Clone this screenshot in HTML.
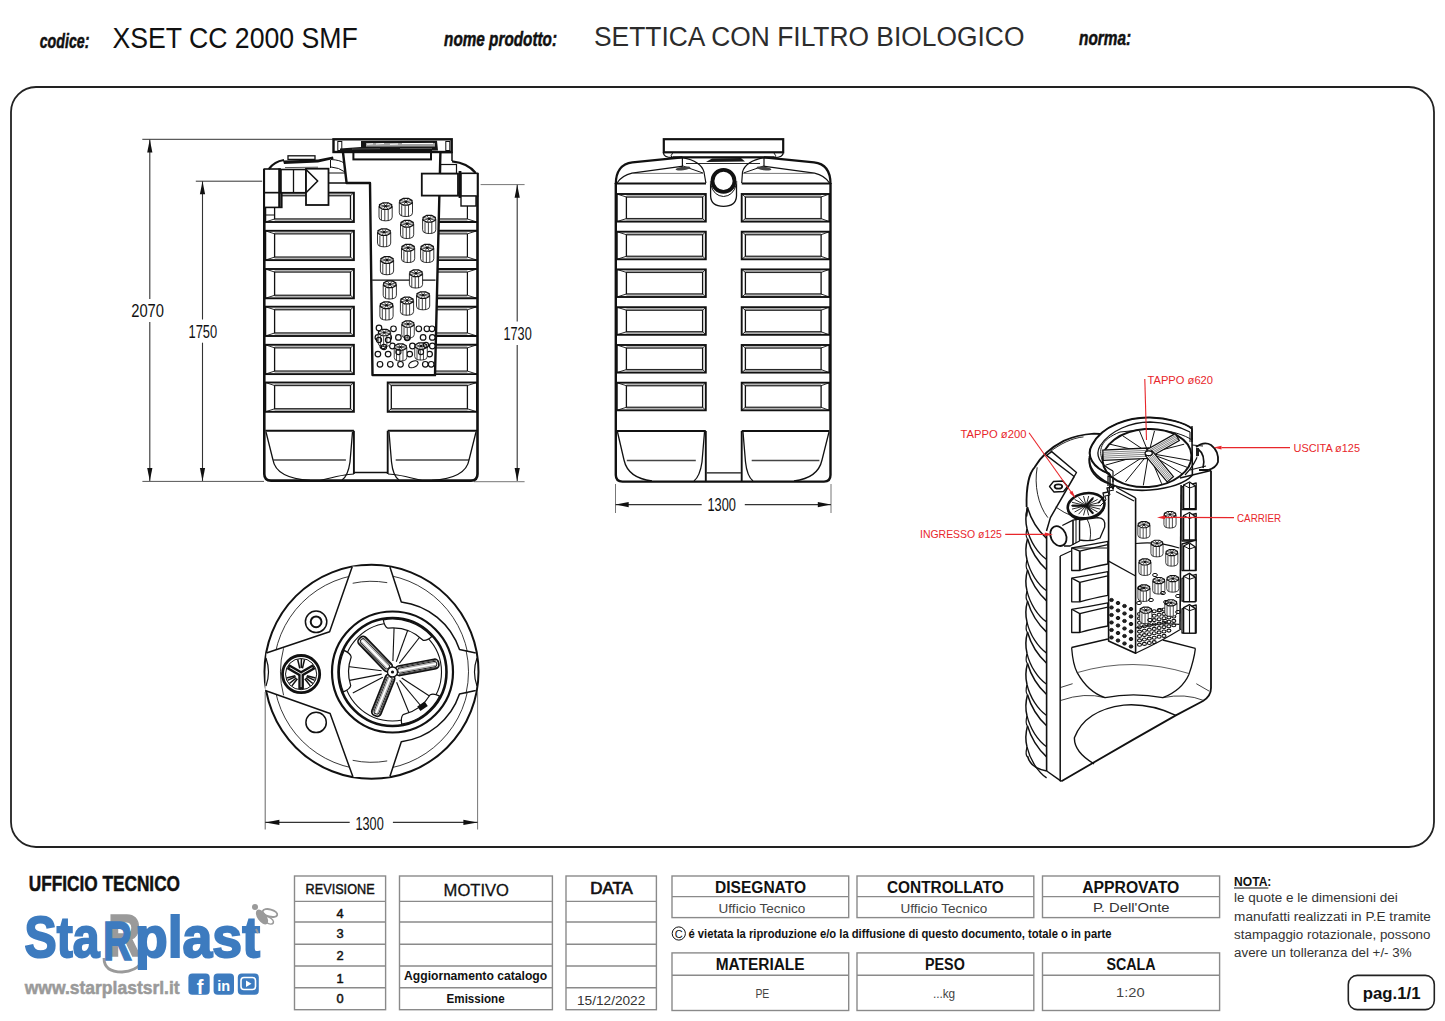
<!DOCTYPE html>
<html><head><meta charset="utf-8"><style>
html,body{margin:0;padding:0;background:#fff;}
svg{display:block;font-family:"Liberation Sans", sans-serif;}
</style></head><body>
<svg width="1445" height="1021" viewBox="0 0 1445 1021">
<rect width="1445" height="1021" fill="#fff"/>
<text x="39.7" y="47.5" font-size="19.5" font-weight="bold" font-style="italic" fill="#111" text-anchor="start" textLength="49.8" lengthAdjust="spacingAndGlyphs" stroke="#111" stroke-width="0.5">codice:</text>
<text x="112.4" y="48.2" font-size="28.9" font-weight="normal" font-style="normal" fill="#111" text-anchor="start" textLength="245.4" lengthAdjust="spacingAndGlyphs" >XSET CC 2000 SMF</text>
<text x="444.1" y="46.1" font-size="19.5" font-weight="bold" font-style="italic" fill="#111" text-anchor="start" textLength="112.9" lengthAdjust="spacingAndGlyphs" stroke="#111" stroke-width="0.5">nome prodotto:</text>
<text x="594" y="46.1" font-size="28.4" font-weight="normal" font-style="normal" fill="#2c2c2c" text-anchor="start" textLength="430.4" lengthAdjust="spacingAndGlyphs" >SETTICA CON FILTRO BIOLOGICO</text>
<text x="1079.1" y="44.9" font-size="19.5" font-weight="bold" font-style="italic" fill="#111" text-anchor="start" textLength="52.1" lengthAdjust="spacingAndGlyphs" stroke="#111" stroke-width="0.5">norma:</text>
<rect x="11" y="87" width="1423" height="760" rx="25" ry="25" fill="none" stroke="#222" stroke-width="1.8"/>
<text x="28.7" y="890.5" font-size="22" font-weight="bold" font-style="normal" fill="#111" text-anchor="start" textLength="151.3" lengthAdjust="spacingAndGlyphs" stroke="#111" stroke-width="0.5">UFFICIO TECNICO</text>
<rect x="294.5" y="876" width="91.10000000000002" height="133.70000000000005" fill="none" stroke="#8a8a8a" stroke-width="1.4"/>
<line x1="294.5" y1="901.4" x2="385.6" y2="901.4" stroke="#8a8a8a" stroke-width="1.4"/>
<line x1="294.5" y1="922" x2="385.6" y2="922" stroke="#8a8a8a" stroke-width="1.4"/>
<line x1="294.5" y1="944.2" x2="385.6" y2="944.2" stroke="#8a8a8a" stroke-width="1.4"/>
<line x1="294.5" y1="966" x2="385.6" y2="966" stroke="#8a8a8a" stroke-width="1.4"/>
<line x1="294.5" y1="987.7" x2="385.6" y2="987.7" stroke="#8a8a8a" stroke-width="1.4"/>
<rect x="399.5" y="876" width="152.89999999999998" height="133.70000000000005" fill="none" stroke="#8a8a8a" stroke-width="1.4"/>
<line x1="399.5" y1="901.4" x2="552.4" y2="901.4" stroke="#8a8a8a" stroke-width="1.4"/>
<line x1="399.5" y1="922" x2="552.4" y2="922" stroke="#8a8a8a" stroke-width="1.4"/>
<line x1="399.5" y1="944.2" x2="552.4" y2="944.2" stroke="#8a8a8a" stroke-width="1.4"/>
<line x1="399.5" y1="966" x2="552.4" y2="966" stroke="#8a8a8a" stroke-width="1.4"/>
<line x1="399.5" y1="987.7" x2="552.4" y2="987.7" stroke="#8a8a8a" stroke-width="1.4"/>
<rect x="566" y="876" width="90.39999999999998" height="133.70000000000005" fill="none" stroke="#8a8a8a" stroke-width="1.4"/>
<line x1="566" y1="901.4" x2="656.4" y2="901.4" stroke="#8a8a8a" stroke-width="1.4"/>
<line x1="566" y1="922" x2="656.4" y2="922" stroke="#8a8a8a" stroke-width="1.4"/>
<line x1="566" y1="944.2" x2="656.4" y2="944.2" stroke="#8a8a8a" stroke-width="1.4"/>
<line x1="566" y1="966" x2="656.4" y2="966" stroke="#8a8a8a" stroke-width="1.4"/>
<line x1="566" y1="987.7" x2="656.4" y2="987.7" stroke="#8a8a8a" stroke-width="1.4"/>
<text x="305.6" y="894.4" font-size="14.4" font-weight="normal" font-style="normal" fill="#111" text-anchor="start" textLength="69" lengthAdjust="spacingAndGlyphs" stroke="#111" stroke-width="0.45">REVISIONE</text>
<text x="340" y="917.9" font-size="12.8" font-weight="normal" font-style="normal" fill="#111" text-anchor="middle" stroke="#111" stroke-width="0.5">4</text>
<text x="340" y="938.4" font-size="12.8" font-weight="normal" font-style="normal" fill="#111" text-anchor="middle" stroke="#111" stroke-width="0.5">3</text>
<text x="340" y="959.7" font-size="12.8" font-weight="normal" font-style="normal" fill="#111" text-anchor="middle" stroke="#111" stroke-width="0.5">2</text>
<text x="340" y="982.5" font-size="12.8" font-weight="normal" font-style="normal" fill="#111" text-anchor="middle" stroke="#111" stroke-width="0.5">1</text>
<text x="340" y="1003" font-size="12.8" font-weight="normal" font-style="normal" fill="#111" text-anchor="middle" stroke="#111" stroke-width="0.5">0</text>
<text x="443.6" y="895.9" font-size="17.3" font-weight="normal" font-style="normal" fill="#111" text-anchor="start" textLength="65.4" lengthAdjust="spacingAndGlyphs" stroke="#111" stroke-width="0.3">MOTIVO</text>
<text x="404" y="980.3" font-size="12.6" font-weight="bold" font-style="normal" fill="#111" text-anchor="start" textLength="143.2" lengthAdjust="spacingAndGlyphs" >Aggiornamento catalogo</text>
<text x="446.6" y="1003.1" font-size="12.6" font-weight="bold" font-style="normal" fill="#111" text-anchor="start" textLength="58" lengthAdjust="spacingAndGlyphs" >Emissione</text>
<text x="590.3" y="894.4" font-size="16.5" font-weight="normal" font-style="normal" fill="#111" text-anchor="start" textLength="42.5" lengthAdjust="spacingAndGlyphs" stroke="#111" stroke-width="0.7">DATA</text>
<text x="577" y="1004.5" font-size="13" font-weight="normal" font-style="normal" fill="#333" text-anchor="start" textLength="68.3" lengthAdjust="spacingAndGlyphs" >15/12/2022</text>
<rect x="672" y="876" width="176.70000000000005" height="41.60000000000002" fill="none" stroke="#8a8a8a" stroke-width="1.4"/>
<line x1="672" y1="896.6" x2="848.7" y2="896.6" stroke="#8a8a8a" stroke-width="1.4"/>
<rect x="672" y="952.9" width="176.70000000000005" height="57.60000000000002" fill="none" stroke="#8a8a8a" stroke-width="1.4"/>
<line x1="672" y1="975.2" x2="848.7" y2="975.2" stroke="#8a8a8a" stroke-width="1.4"/>
<rect x="857" y="876" width="176.79999999999995" height="41.60000000000002" fill="none" stroke="#8a8a8a" stroke-width="1.4"/>
<line x1="857" y1="896.6" x2="1033.8" y2="896.6" stroke="#8a8a8a" stroke-width="1.4"/>
<rect x="857" y="952.9" width="176.79999999999995" height="57.60000000000002" fill="none" stroke="#8a8a8a" stroke-width="1.4"/>
<line x1="857" y1="975.2" x2="1033.8" y2="975.2" stroke="#8a8a8a" stroke-width="1.4"/>
<rect x="1042.5" y="876" width="177.0999999999999" height="41.60000000000002" fill="none" stroke="#8a8a8a" stroke-width="1.4"/>
<line x1="1042.5" y1="896.6" x2="1219.6" y2="896.6" stroke="#8a8a8a" stroke-width="1.4"/>
<rect x="1042.5" y="952.9" width="177.0999999999999" height="57.60000000000002" fill="none" stroke="#8a8a8a" stroke-width="1.4"/>
<line x1="1042.5" y1="975.2" x2="1219.6" y2="975.2" stroke="#8a8a8a" stroke-width="1.4"/>
<text x="715" y="892.6" font-size="16.8" font-weight="bold" font-style="normal" fill="#111" text-anchor="start" textLength="91" lengthAdjust="spacingAndGlyphs" >DISEGNATO</text>
<text x="886.9" y="892.6" font-size="16.8" font-weight="bold" font-style="normal" fill="#111" text-anchor="start" textLength="116.8" lengthAdjust="spacingAndGlyphs" >CONTROLLATO</text>
<text x="1082.2" y="892.6" font-size="16.8" font-weight="bold" font-style="normal" fill="#111" text-anchor="start" textLength="97" lengthAdjust="spacingAndGlyphs" >APPROVATO</text>
<text x="718.6" y="912.8" font-size="12.8" font-weight="normal" font-style="normal" fill="#444" text-anchor="start" textLength="86.7" lengthAdjust="spacingAndGlyphs" >Ufficio Tecnico</text>
<text x="900.5" y="912.8" font-size="12.8" font-weight="normal" font-style="normal" fill="#444" text-anchor="start" textLength="86.7" lengthAdjust="spacingAndGlyphs" >Ufficio Tecnico</text>
<text x="1092.9" y="911.7" font-size="13.6" font-weight="normal" font-style="normal" fill="#333" text-anchor="start" textLength="76.7" lengthAdjust="spacingAndGlyphs" >P. Dell'Onte</text>
<text x="715.7" y="970" font-size="16.8" font-weight="bold" font-style="normal" fill="#111" text-anchor="start" textLength="88.9" lengthAdjust="spacingAndGlyphs" >MATERIALE</text>
<text x="925" y="970" font-size="16.8" font-weight="bold" font-style="normal" fill="#111" text-anchor="start" textLength="39.8" lengthAdjust="spacingAndGlyphs" >PESO</text>
<text x="1106.4" y="970" font-size="16.8" font-weight="bold" font-style="normal" fill="#111" text-anchor="start" textLength="49.2" lengthAdjust="spacingAndGlyphs" >SCALA</text>
<text x="755.4" y="998" font-size="12.8" font-weight="normal" font-style="normal" fill="#444" text-anchor="start" textLength="13.9" lengthAdjust="spacingAndGlyphs" >PE</text>
<text x="932.9" y="998" font-size="12.8" font-weight="normal" font-style="normal" fill="#444" text-anchor="start" textLength="22.3" lengthAdjust="spacingAndGlyphs" >...kg</text>
<text x="1116" y="997.3" font-size="13.2" font-weight="normal" font-style="normal" fill="#444" text-anchor="start" textLength="28.6" lengthAdjust="spacingAndGlyphs" >1:20</text>
<circle cx="678.8" cy="933.5" r="6.6" fill="none" stroke="#111" stroke-width="1"/>
<text x="678.8" y="937.6" font-size="11" font-weight="normal" font-style="normal" fill="#111" text-anchor="middle" >C</text>
<text x="688.5" y="937.7" font-size="12" font-weight="bold" font-style="normal" fill="#111" text-anchor="start" textLength="423" lengthAdjust="spacingAndGlyphs" >é vietata la riproduzione e/o la diffusione di questo documento, totale o in parte</text>
<text x="1234.1" y="885.6" font-size="13" font-weight="bold" font-style="normal" fill="#111" text-anchor="start" textLength="37.3" lengthAdjust="spacingAndGlyphs" >NOTA:</text>
<line x1="1234" y1="888" x2="1268.4" y2="888" stroke="#111" stroke-width="1"/>
<text x="1234.1" y="902.3" font-size="12.5" font-weight="normal" font-style="normal" fill="#333" text-anchor="start" textLength="163.7" lengthAdjust="spacingAndGlyphs" >le quote e le dimensioni dei</text>
<text x="1234.1" y="920.6" font-size="12.5" font-weight="normal" font-style="normal" fill="#333" text-anchor="start" textLength="196.8" lengthAdjust="spacingAndGlyphs" >manufatti realizzati in P.E tramite</text>
<text x="1234.1" y="938.8" font-size="12.5" font-weight="normal" font-style="normal" fill="#333" text-anchor="start" textLength="196.4" lengthAdjust="spacingAndGlyphs" >stampaggio rotazionale, possono</text>
<text x="1234.1" y="957.1" font-size="12.5" font-weight="normal" font-style="normal" fill="#333" text-anchor="start" textLength="177.4" lengthAdjust="spacingAndGlyphs" >avere un tolleranza del +/- 3%</text>
<rect x="1348.3" y="975.4" width="86" height="34.2" rx="9" ry="9" fill="none" stroke="#222" stroke-width="1.6"/>
<text x="1362.8" y="999" font-size="16.5" font-weight="bold" font-style="normal" fill="#111" text-anchor="start" textLength="57.8" lengthAdjust="spacingAndGlyphs" >pag.1/1</text>
<text x="108" y="956" font-size="60" font-weight="bold" fill="#9a9a9a" stroke="#9a9a9a" stroke-width="1.5" textLength="33" lengthAdjust="spacingAndGlyphs">R</text>
<path d="M104 958 Q 104 972 122 972 Q 136 971 141 963" fill="none" stroke="#9a9a9a" stroke-width="2.8"/>
<text x="24.5" y="957" font-size="57" font-weight="bold" fill="#3d7bbf" stroke="#3d7bbf" stroke-width="2" textLength="75" lengthAdjust="spacingAndGlyphs">Sta</text>
<text x="103" y="960" font-size="56" font-weight="bold" fill="#3d7bbf" stroke="#3d7bbf" stroke-width="1.6" textLength="29" lengthAdjust="spacingAndGlyphs">R</text>
<text x="135" y="957" font-size="57" font-weight="bold" fill="#3d7bbf" stroke="#3d7bbf" stroke-width="2" textLength="125" lengthAdjust="spacingAndGlyphs">plast</text>
<g fill="#9a9a9a" stroke="#9a9a9a"><ellipse cx="262" cy="917" rx="4.5" ry="8.5" transform="rotate(-35 262 917)" stroke="none"/><ellipse cx="270" cy="913" rx="7.5" ry="3.6" fill="none" stroke-width="1.8" transform="rotate(15 270 913)"/><ellipse cx="268" cy="920" rx="6" ry="3" fill="none" stroke-width="1.6" transform="rotate(30 268 920)"/><circle cx="255" cy="907" r="3" stroke="none"/><path d="M256 929 L258 933" stroke-width="2"/></g>
<text x="24.7" y="993.8" font-size="17.5" font-weight="bold" fill="#9a9a9a" stroke="#9a9a9a" stroke-width="0.5" textLength="155" lengthAdjust="spacingAndGlyphs">www.starplastsrl.it</text>
<rect x="188.4" y="973.5" width="21.3" height="21.3" rx="4" fill="#3d7bbf"/>
<rect x="213.6" y="973.5" width="20.4" height="21.3" rx="4" fill="#3d7bbf"/>
<rect x="237.8" y="973.5" width="21.0" height="21.3" rx="4" fill="#3d7bbf"/>
<text x="200" y="994" font-size="20" font-weight="bold" font-style="normal" fill="#fff" text-anchor="middle" >f</text>
<text x="223.8" y="990.5" font-size="14.5" font-weight="bold" font-style="normal" fill="#fff" text-anchor="middle" >in</text>
<rect x="241" y="977.5" width="14.5" height="12" rx="3" fill="none" stroke="#fff" stroke-width="1.6"/>
<path d="M246 980.5 L246 987 L251.5 983.7 Z" fill="#fff"/>
<line x1="142.3" y1="139.3" x2="333.0" y2="139.3" stroke="#333" stroke-width="1.0" />
<line x1="142.4" y1="481.4" x2="264.0" y2="481.4" stroke="#555" stroke-width="1.0" />
<line x1="195.8" y1="181.2" x2="262.2" y2="181.2" stroke="#333" stroke-width="1.0" />
<line x1="149.8" y1="139.5" x2="149.8" y2="299.0" stroke="#333" stroke-width="1.1" />
<line x1="149.8" y1="322.0" x2="149.8" y2="481.0" stroke="#333" stroke-width="1.1" />
<path d="M149.8 139.5 L147.20000000000002 152.5 L152.4 152.5 Z" fill="#111"/>
<path d="M149.8 481 L147.20000000000002 468 L152.4 468 Z" fill="#111"/>
<text x="131.2" y="317" font-size="18.6" fill="#111" textLength="32.8" lengthAdjust="spacingAndGlyphs">2070</text>
<line x1="202.5" y1="181.2" x2="202.5" y2="319.5" stroke="#333" stroke-width="1.1" />
<line x1="202.5" y1="342.7" x2="202.5" y2="481.0" stroke="#333" stroke-width="1.1" />
<path d="M202.5 181.3 L199.9 194.3 L205.1 194.3 Z" fill="#111"/>
<path d="M202.5 481 L199.9 468 L205.1 468 Z" fill="#111"/>
<text x="188.5" y="338.2" font-size="18.6" fill="#111" textLength="28.7" lengthAdjust="spacingAndGlyphs">1750</text>
<line x1="480.6" y1="184.6" x2="524.6" y2="184.6" stroke="#777" stroke-width="1.0" />
<line x1="517.2" y1="184.8" x2="517.2" y2="321.5" stroke="#333" stroke-width="1.1" />
<line x1="517.2" y1="345.0" x2="517.2" y2="481.0" stroke="#333" stroke-width="1.1" />
<path d="M517.2 184.8 L514.6 197.8 L519.8000000000001 197.8 Z" fill="#111"/>
<path d="M517.2 481 L514.6 468 L519.8000000000001 468 Z" fill="#111"/>
<text x="503.5" y="340" font-size="18.6" fill="#111" textLength="28.2" lengthAdjust="spacingAndGlyphs">1730</text>
<line x1="474.0" y1="481.7" x2="524.6" y2="481.7" stroke="#777" stroke-width="1.0" />
<rect x="265.3" y="230.8" width="88.6" height="29.3" rx="0" fill="none" stroke="#111" stroke-width="1.9"/>
<rect x="274.6" y="233.8" width="75.9" height="23.3" rx="0" fill="none" stroke="#111" stroke-width="1.3"/>
<line x1="265.3" y1="230.8" x2="274.6" y2="233.8" stroke="#111" stroke-width="0.9" />
<line x1="265.3" y1="260.1" x2="274.6" y2="257.1" stroke="#111" stroke-width="0.9" />
<line x1="353.9" y1="230.8" x2="350.5" y2="233.8" stroke="#111" stroke-width="0.9" />
<line x1="353.9" y1="260.1" x2="350.5" y2="257.1" stroke="#111" stroke-width="0.9" />
<rect x="274.6" y="231.8" width="75.9" height="2" fill="#777" opacity="0.55"/>
<rect x="274.6" y="257.1" width="75.9" height="2" fill="#777" opacity="0.55"/>
<rect x="265.3" y="269.0" width="88.6" height="29.3" rx="0" fill="none" stroke="#111" stroke-width="1.9"/>
<rect x="274.6" y="272.0" width="75.9" height="23.3" rx="0" fill="none" stroke="#111" stroke-width="1.3"/>
<line x1="265.3" y1="269.0" x2="274.6" y2="272.0" stroke="#111" stroke-width="0.9" />
<line x1="265.3" y1="298.3" x2="274.6" y2="295.3" stroke="#111" stroke-width="0.9" />
<line x1="353.9" y1="269.0" x2="350.5" y2="272.0" stroke="#111" stroke-width="0.9" />
<line x1="353.9" y1="298.3" x2="350.5" y2="295.3" stroke="#111" stroke-width="0.9" />
<rect x="274.6" y="270.0" width="75.9" height="2" fill="#777" opacity="0.55"/>
<rect x="274.6" y="295.3" width="75.9" height="2" fill="#777" opacity="0.55"/>
<rect x="265.3" y="306.7" width="88.6" height="29.3" rx="0" fill="none" stroke="#111" stroke-width="1.9"/>
<rect x="274.6" y="309.7" width="75.9" height="23.3" rx="0" fill="none" stroke="#111" stroke-width="1.3"/>
<line x1="265.3" y1="306.7" x2="274.6" y2="309.7" stroke="#111" stroke-width="0.9" />
<line x1="265.3" y1="336.0" x2="274.6" y2="333.0" stroke="#111" stroke-width="0.9" />
<line x1="353.9" y1="306.7" x2="350.5" y2="309.7" stroke="#111" stroke-width="0.9" />
<line x1="353.9" y1="336.0" x2="350.5" y2="333.0" stroke="#111" stroke-width="0.9" />
<rect x="274.6" y="307.7" width="75.9" height="2" fill="#777" opacity="0.55"/>
<rect x="274.6" y="333.0" width="75.9" height="2" fill="#777" opacity="0.55"/>
<rect x="265.3" y="344.8" width="88.6" height="29.3" rx="0" fill="none" stroke="#111" stroke-width="1.9"/>
<rect x="274.6" y="347.8" width="75.9" height="23.3" rx="0" fill="none" stroke="#111" stroke-width="1.3"/>
<line x1="265.3" y1="344.8" x2="274.6" y2="347.8" stroke="#111" stroke-width="0.9" />
<line x1="265.3" y1="374.1" x2="274.6" y2="371.1" stroke="#111" stroke-width="0.9" />
<line x1="353.9" y1="344.8" x2="350.5" y2="347.8" stroke="#111" stroke-width="0.9" />
<line x1="353.9" y1="374.1" x2="350.5" y2="371.1" stroke="#111" stroke-width="0.9" />
<rect x="274.6" y="345.8" width="75.9" height="2" fill="#777" opacity="0.55"/>
<rect x="274.6" y="371.1" width="75.9" height="2" fill="#777" opacity="0.55"/>
<rect x="265.3" y="382.5" width="88.6" height="29.3" rx="0" fill="none" stroke="#111" stroke-width="1.9"/>
<rect x="274.6" y="385.5" width="75.9" height="23.3" rx="0" fill="none" stroke="#111" stroke-width="1.3"/>
<line x1="265.3" y1="382.5" x2="274.6" y2="385.5" stroke="#111" stroke-width="0.9" />
<line x1="265.3" y1="411.8" x2="274.6" y2="408.8" stroke="#111" stroke-width="0.9" />
<line x1="353.9" y1="382.5" x2="350.5" y2="385.5" stroke="#111" stroke-width="0.9" />
<line x1="353.9" y1="411.8" x2="350.5" y2="408.8" stroke="#111" stroke-width="0.9" />
<rect x="274.6" y="383.5" width="75.9" height="2" fill="#777" opacity="0.55"/>
<rect x="274.6" y="408.8" width="75.9" height="2" fill="#777" opacity="0.55"/>
<rect x="265.3" y="192.7" width="88.6" height="29.3" rx="0" fill="none" stroke="#111" stroke-width="1.9"/>
<rect x="274.6" y="195.7" width="75.9" height="23.3" rx="0" fill="none" stroke="#111" stroke-width="1.3"/>
<line x1="265.3" y1="192.7" x2="274.6" y2="195.7" stroke="#111" stroke-width="0.9" />
<line x1="265.3" y1="222.0" x2="274.6" y2="219.0" stroke="#111" stroke-width="0.9" />
<line x1="353.9" y1="192.7" x2="350.5" y2="195.7" stroke="#111" stroke-width="0.9" />
<line x1="353.9" y1="222.0" x2="350.5" y2="219.0" stroke="#111" stroke-width="0.9" />
<rect x="274.6" y="193.7" width="75.9" height="2" fill="#777" opacity="0.55"/>
<rect x="274.6" y="219.0" width="75.9" height="2" fill="#777" opacity="0.55"/>
<line x1="439.4" y1="192.7" x2="477.0" y2="192.7" stroke="#111" stroke-width="1.9" />
<line x1="438.7" y1="222.0" x2="477.0" y2="222.0" stroke="#111" stroke-width="1.9" />
<line x1="467.4" y1="195.7" x2="467.4" y2="219.0" stroke="#111" stroke-width="1.2" />
<line x1="467.4" y1="195.7" x2="477.0" y2="192.7" stroke="#111" stroke-width="0.9" />
<line x1="467.4" y1="219.0" x2="477.0" y2="222.0" stroke="#111" stroke-width="0.9" />
<line x1="439.4" y1="195.7" x2="467.4" y2="195.7" stroke="#111" stroke-width="1.2" />
<line x1="438.8" y1="219.0" x2="467.4" y2="219.0" stroke="#111" stroke-width="1.2" />
<rect x="439.4" y="193.7" width="28.0" height="2" fill="#777" opacity="0.55"/>
<rect x="438.7" y="219.0" width="28.7" height="2" fill="#777" opacity="0.55"/>
<line x1="438.5" y1="230.8" x2="477.0" y2="230.8" stroke="#111" stroke-width="1.9" />
<line x1="437.8" y1="260.1" x2="477.0" y2="260.1" stroke="#111" stroke-width="1.9" />
<line x1="467.4" y1="233.8" x2="467.4" y2="257.1" stroke="#111" stroke-width="1.2" />
<line x1="467.4" y1="233.8" x2="477.0" y2="230.8" stroke="#111" stroke-width="0.9" />
<line x1="467.4" y1="257.1" x2="477.0" y2="260.1" stroke="#111" stroke-width="0.9" />
<line x1="438.4" y1="233.8" x2="467.4" y2="233.8" stroke="#111" stroke-width="1.2" />
<line x1="437.9" y1="257.1" x2="467.4" y2="257.1" stroke="#111" stroke-width="1.2" />
<rect x="438.5" y="231.8" width="28.9" height="2" fill="#777" opacity="0.55"/>
<rect x="437.8" y="257.1" width="29.6" height="2" fill="#777" opacity="0.55"/>
<line x1="437.6" y1="269.0" x2="477.0" y2="269.0" stroke="#111" stroke-width="1.9" />
<line x1="436.9" y1="298.3" x2="477.0" y2="298.3" stroke="#111" stroke-width="1.9" />
<line x1="467.4" y1="272.0" x2="467.4" y2="295.3" stroke="#111" stroke-width="1.2" />
<line x1="467.4" y1="272.0" x2="477.0" y2="269.0" stroke="#111" stroke-width="0.9" />
<line x1="467.4" y1="295.3" x2="477.0" y2="298.3" stroke="#111" stroke-width="0.9" />
<line x1="437.5" y1="272.0" x2="467.4" y2="272.0" stroke="#111" stroke-width="1.2" />
<line x1="436.9" y1="295.3" x2="467.4" y2="295.3" stroke="#111" stroke-width="1.2" />
<rect x="437.6" y="270.0" width="29.8" height="2" fill="#777" opacity="0.55"/>
<rect x="436.9" y="295.3" width="30.5" height="2" fill="#777" opacity="0.55"/>
<line x1="436.7" y1="306.7" x2="477.0" y2="306.7" stroke="#111" stroke-width="1.9" />
<line x1="435.9" y1="336.0" x2="477.0" y2="336.0" stroke="#111" stroke-width="1.9" />
<line x1="467.4" y1="309.7" x2="467.4" y2="333.0" stroke="#111" stroke-width="1.2" />
<line x1="467.4" y1="309.7" x2="477.0" y2="306.7" stroke="#111" stroke-width="0.9" />
<line x1="467.4" y1="333.0" x2="477.0" y2="336.0" stroke="#111" stroke-width="0.9" />
<line x1="436.6" y1="309.7" x2="467.4" y2="309.7" stroke="#111" stroke-width="1.2" />
<line x1="436.0" y1="333.0" x2="467.4" y2="333.0" stroke="#111" stroke-width="1.2" />
<rect x="436.7" y="307.7" width="30.7" height="2" fill="#777" opacity="0.55"/>
<rect x="435.9" y="333.0" width="31.5" height="2" fill="#777" opacity="0.55"/>
<line x1="435.7" y1="344.8" x2="477.0" y2="344.8" stroke="#111" stroke-width="1.9" />
<line x1="435.0" y1="374.1" x2="477.0" y2="374.1" stroke="#111" stroke-width="1.9" />
<line x1="467.4" y1="347.8" x2="467.4" y2="371.1" stroke="#111" stroke-width="1.2" />
<line x1="467.4" y1="347.8" x2="477.0" y2="344.8" stroke="#111" stroke-width="0.9" />
<line x1="467.4" y1="371.1" x2="477.0" y2="374.1" stroke="#111" stroke-width="0.9" />
<line x1="435.7" y1="347.8" x2="467.4" y2="347.8" stroke="#111" stroke-width="1.2" />
<line x1="435.1" y1="371.1" x2="467.4" y2="371.1" stroke="#111" stroke-width="1.2" />
<rect x="435.7" y="345.8" width="31.7" height="2" fill="#777" opacity="0.55"/>
<rect x="435.0" y="371.1" width="32.4" height="2" fill="#777" opacity="0.55"/>
<rect x="387.7" y="382.5" width="89.3" height="29.3" rx="0" fill="none" stroke="#111" stroke-width="1.9"/>
<rect x="391.3" y="385.5" width="76.1" height="23.3" rx="0" fill="none" stroke="#111" stroke-width="1.3"/>
<line x1="387.7" y1="382.5" x2="391.3" y2="385.5" stroke="#111" stroke-width="0.9" />
<line x1="387.7" y1="411.8" x2="391.3" y2="408.8" stroke="#111" stroke-width="0.9" />
<line x1="477.0" y1="382.5" x2="467.4" y2="385.5" stroke="#111" stroke-width="0.9" />
<line x1="477.0" y1="411.8" x2="467.4" y2="408.8" stroke="#111" stroke-width="0.9" />
<rect x="391.3" y="383.5" width="76.1" height="2" fill="#777" opacity="0.55"/>
<rect x="391.3" y="408.8" width="76.1" height="2" fill="#777" opacity="0.55"/>
<line x1="265.3" y1="430.8" x2="353.9" y2="430.8" stroke="#111" stroke-width="1.9" />
<line x1="273.3" y1="460.0" x2="345.9" y2="460.0" stroke="#444" stroke-width="1.3" />
<line x1="387.7" y1="430.8" x2="477.0" y2="430.8" stroke="#111" stroke-width="1.9" />
<line x1="395.7" y1="460.0" x2="469.0" y2="460.0" stroke="#444" stroke-width="1.3" />
<path d="M266 432 L273 460 Q276 478 310 480.5" fill="none" stroke="#111" stroke-width="1.3" stroke-linejoin="round" />
<path d="M352.5 432 L350 462 Q348 476 342 480" fill="none" stroke="#111" stroke-width="1.3" stroke-linejoin="round" />
<path d="M389 432 L391.5 462 Q393 476 399 480" fill="none" stroke="#111" stroke-width="1.3" stroke-linejoin="round" />
<path d="M476 432 L469 460 Q466 478 432 480.5" fill="none" stroke="#111" stroke-width="1.3" stroke-linejoin="round" />
<line x1="354.0" y1="472.5" x2="388.0" y2="472.5" stroke="#111" stroke-width="1.3" />
<path d="M320 480.5 Q 345 474 354 474" fill="none" stroke="#111" stroke-width="1.2" stroke-linejoin="round" />
<path d="M388 474 Q 397 474 422 480.5" fill="none" stroke="#111" stroke-width="1.2" stroke-linejoin="round" />
<line x1="353.9" y1="430.8" x2="353.9" y2="474.0" stroke="#111" stroke-width="1.9" />
<line x1="387.7" y1="430.8" x2="387.7" y2="474.0" stroke="#111" stroke-width="1.9" />
<path d="M264.3 169 L264.3 474 Q264.3 480.6 271 480.6 L471 480.6 Q477.5 480.6 477.5 474 L477.5 173" fill="none" stroke="#111" stroke-width="2.6" stroke-linejoin="round" />
<path d="M452 161.3 Q468 163 475.7 173" fill="none" stroke="#111" stroke-width="2.2" stroke-linejoin="round" />
<rect x="333.5" y="139.3" width="118.2" height="12.7" rx="0" fill="none" stroke="#111" stroke-width="2.4"/>
<rect x="337.8" y="141.5" width="4.0" height="9.0" rx="0" fill="none" stroke="#111" stroke-width="1.0"/>
<rect x="445.8" y="141.5" width="4.0" height="9.0" rx="0" fill="none" stroke="#111" stroke-width="1.0"/>
<path d="M361 141 L437 140.8 L438 150.5 L340 151.5 L340 148.5 L361 147 Z" fill="#161616"/>
<rect x="366" y="143" width="69" height="3.6" fill="#fff" opacity="0.6"/>
<path d="M367 144.2 L373 143.8 M376 144 L384 143.5 M390 144.3 L398 144 M402 143.6 L433 143.4" stroke="#fff" stroke-width="1"/>
<path d="M352 149.2 L380 148.8 M400 148.6 L432 148.4" stroke="#888" stroke-width="0.6"/>
<rect x="353.4" y="150.6" width="77.6" height="8.8" rx="0" fill="none" stroke="#111" stroke-width="2.0"/>
<path d="M343 152.5 L346.6 183 L370 183 L372.5 375.1 L435 375.1 L440.4 152.5" fill="none" stroke="#111" stroke-width="2.4" stroke-linejoin="round" />
<line x1="372.2" y1="280.2" x2="435.5" y2="280.2" stroke="#111" stroke-width="1.3" />
<line x1="328.5" y1="173.0" x2="345.5" y2="173.0" stroke="#111" stroke-width="1.0" />
<line x1="328.5" y1="183.0" x2="346.6" y2="183.0" stroke="#111" stroke-width="1.5" />
<rect x="264.3" y="169.0" width="15.7" height="23.7" rx="0" fill="#fff" stroke="#111" stroke-width="1.6"/>
<rect x="264.3" y="192.7" width="17.5" height="14.7" rx="0" fill="#fff" stroke="#111" stroke-width="1.6"/>
<line x1="279.5" y1="168.5" x2="279.5" y2="207.0" stroke="#111" stroke-width="2.6" />
<rect x="281.0" y="169.5" width="25.0" height="23.2" rx="0" fill="#fff" stroke="#111" stroke-width="1.6"/>
<line x1="293.5" y1="169.5" x2="293.5" y2="192.7" stroke="#111" stroke-width="1.3" />
<rect x="306.0" y="168.7" width="22.5" height="36.3" rx="0" fill="#fff" stroke="#111" stroke-width="1.8"/>
<path d="M306 169.5 L317.7 181 L306 192.7" fill="none" stroke="#111" stroke-width="1.6" stroke-linejoin="round" />
<line x1="266.0" y1="215.0" x2="274.6" y2="215.0" stroke="#111" stroke-width="1.0" />
<line x1="266.0" y1="207.5" x2="274.6" y2="207.5" stroke="#111" stroke-width="1.0" />
<path d="M268.7 169.2 Q274 161.5 284 160" fill="none" stroke="#111" stroke-width="2.2" stroke-linejoin="round" />
<rect x="288.0" y="155.8" width="27.0" height="3.6" rx="0" fill="#fff" stroke="#111" stroke-width="1.3"/>
<path d="M283 160.5 L318 159.5 L333 156.5 L333.5 159 L318 162.5 L284 164 Z" fill="#111"/>
<line x1="285.0" y1="167.6" x2="318.0" y2="167.2" stroke="#555" stroke-width="1.0" />
<path d="M330.5 160 L330.5 168 M331 159.5 Q340 160 344 163 M331 167 Q339 167.5 345 172" fill="none" stroke="#111" stroke-width="1.0" stroke-linejoin="round" />
<rect x="421.8" y="173.6" width="36.2" height="22.0" rx="0" fill="#fff" stroke="#111" stroke-width="1.8"/>
<line x1="460.0" y1="171.0" x2="460.0" y2="198.0" stroke="#111" stroke-width="2.8" />
<rect x="461.0" y="173.3" width="16.5" height="23.0" rx="0" fill="#fff" stroke="#111" stroke-width="1.6"/>
<rect x="461.0" y="196.0" width="15.0" height="10.0" rx="0" fill="#fff" stroke="#111" stroke-width="1.4"/>
<path d="M440.4 152.5 L452 152.5 L452 161" fill="none" stroke="#111" stroke-width="1.5" stroke-linejoin="round" />
<rect x="440.5" y="164.5" width="16.0" height="9.0" rx="0" fill="none" stroke="#111" stroke-width="1.2"/>
<defs><g id="carrier" fill="none" stroke="#111" stroke-width="0.85"><path d="M-6.6 -5.2 L-6.6 5.8 Q-6.6 8.6 -3.3 9.2 Q0 9.9 3.3 9.2 Q6.6 8.6 6.6 5.8 L6.6 -5.2" fill="#fff"/><polygon points="6.10,-3.82 2.53,-1.87 -2.53,-1.87 -6.10,-3.82 -6.10,-6.58 -2.53,-8.53 2.53,-8.53 6.10,-6.58" fill="#fff" stroke-width="1.25"/><circle cx="0" cy="-5.2" r="1.2" fill="#111" stroke="none"/><path d="M0 -5.2 L6.10 -3.82 M0 -5.2 L2.53 -1.87 M0 -5.2 L-2.53 -1.87 M0 -5.2 L-6.10 -3.82 M0 -5.2 L-6.10 -6.58 M0 -5.2 L-2.53 -8.53 M0 -5.2 L2.53 -8.53 M0 -5.2 L6.10 -6.58 " stroke-width="0.75"/><path d="M-4.2 -1.8 L-4.2 9 M-0.8 -1.5 L-0.8 9.7 M2.6 -1.6 L2.6 9.5" stroke-width="0.8"/></g></defs>
<use href="#carrier" transform="translate(385.6 211.3) scale(1.0)"/>
<use href="#carrier" transform="translate(405.9 207.0) scale(1.0)"/>
<use href="#carrier" transform="translate(429.2 224.0) scale(1.0)"/>
<use href="#carrier" transform="translate(407.1 229.0) scale(1.0)"/>
<use href="#carrier" transform="translate(384.1 237.3) scale(1.0)"/>
<use href="#carrier" transform="translate(408.1 253.0) scale(1.0)"/>
<use href="#carrier" transform="translate(427.2 253.0) scale(1.0)"/>
<use href="#carrier" transform="translate(387.0 265.2) scale(1.0)"/>
<use href="#carrier" transform="translate(416.0 278.5) scale(1.0)"/>
<use href="#carrier" transform="translate(389.8 289.5) scale(1.0)"/>
<use href="#carrier" transform="translate(423.1 300.3) scale(1.0)"/>
<use href="#carrier" transform="translate(407.0 305.7) scale(1.0)"/>
<use href="#carrier" transform="translate(386.5 310.5) scale(1.0)"/>
<circle cx="393.5" cy="328.8" r="2.8" fill="#fff" stroke="#111" stroke-width="1.2"/>
<circle cx="418.8" cy="328.8" r="2.8" fill="#fff" stroke="#111" stroke-width="1.2"/>
<circle cx="426.9" cy="328.8" r="2.8" fill="#fff" stroke="#111" stroke-width="1.2"/>
<circle cx="379" cy="328" r="2.8" fill="#fff" stroke="#111" stroke-width="1.2"/>
<circle cx="384" cy="337.4" r="2.8" fill="#fff" stroke="#111" stroke-width="1.2"/>
<circle cx="377.9" cy="337.4" r="2.8" fill="#fff" stroke="#111" stroke-width="1.2"/>
<circle cx="388.7" cy="337.4" r="2.8" fill="#fff" stroke="#111" stroke-width="1.2"/>
<circle cx="398.4" cy="337.4" r="2.8" fill="#fff" stroke="#111" stroke-width="1.2"/>
<circle cx="407.5" cy="337.4" r="2.8" fill="#fff" stroke="#111" stroke-width="1.2"/>
<circle cx="423.1" cy="337.4" r="2.8" fill="#fff" stroke="#111" stroke-width="1.2"/>
<circle cx="382.8" cy="346" r="2.8" fill="#fff" stroke="#111" stroke-width="1.2"/>
<circle cx="392.4" cy="346" r="2.8" fill="#fff" stroke="#111" stroke-width="1.2"/>
<circle cx="412.4" cy="346" r="2.8" fill="#fff" stroke="#111" stroke-width="1.2"/>
<circle cx="377.9" cy="354.1" r="2.8" fill="#fff" stroke="#111" stroke-width="1.2"/>
<circle cx="388.1" cy="354.1" r="2.8" fill="#fff" stroke="#111" stroke-width="1.2"/>
<circle cx="398.4" cy="354.1" r="2.8" fill="#fff" stroke="#111" stroke-width="1.2"/>
<circle cx="409.7" cy="354.1" r="2.8" fill="#fff" stroke="#111" stroke-width="1.2"/>
<circle cx="422" cy="354.1" r="2.8" fill="#fff" stroke="#111" stroke-width="1.2"/>
<circle cx="380" cy="364.3" r="2.8" fill="#fff" stroke="#111" stroke-width="1.2"/>
<circle cx="390.3" cy="364.3" r="2.8" fill="#fff" stroke="#111" stroke-width="1.2"/>
<circle cx="400.5" cy="364.3" r="2.8" fill="#fff" stroke="#111" stroke-width="1.2"/>
<circle cx="425.3" cy="364.3" r="2.8" fill="#fff" stroke="#111" stroke-width="1.2"/>
<circle cx="431.2" cy="364.3" r="2.8" fill="#fff" stroke="#111" stroke-width="1.2"/>
<circle cx="432.3" cy="337.4" r="2.8" fill="#fff" stroke="#111" stroke-width="1.2"/>
<circle cx="432.3" cy="346" r="2.8" fill="#fff" stroke="#111" stroke-width="1.2"/>
<circle cx="429.6" cy="354.1" r="2.8" fill="#fff" stroke="#111" stroke-width="1.2"/>
<circle cx="432" cy="328.8" r="2.8" fill="#fff" stroke="#111" stroke-width="1.2"/>
<ellipse cx="413.4" cy="364.3" rx="5" ry="3" transform="rotate(-25 413.4 364.3)" fill="#fff" stroke="#111" stroke-width="1.2"/>
<use href="#carrier" transform="translate(408.0 329.0) scale(0.95)"/>
<use href="#carrier" transform="translate(384.4 337.5) scale(0.95)"/>
<use href="#carrier" transform="translate(400.5 352.0) scale(0.95)"/>
<use href="#carrier" transform="translate(421.0 351.0) scale(0.95)"/>
<circle cx="379" cy="340" r="2.6" fill="none" stroke="#111" stroke-width="1.1"/>
<circle cx="388" cy="340" r="2.6" fill="none" stroke="#111" stroke-width="1.1"/>
<circle cx="384" cy="347" r="2.6" fill="none" stroke="#111" stroke-width="1.1"/>
<circle cx="398.4" cy="352" r="2.6" fill="none" stroke="#111" stroke-width="1.1"/>
<circle cx="407" cy="338" r="2.6" fill="none" stroke="#111" stroke-width="1.1"/>
<circle cx="421" cy="352" r="2.6" fill="none" stroke="#111" stroke-width="1.1"/>
<circle cx="426" cy="345" r="2.6" fill="none" stroke="#111" stroke-width="1.1"/>
<rect x="616.8" y="194.0" width="89.0" height="27.6" rx="0" fill="none" stroke="#111" stroke-width="1.9"/>
<rect x="626.4" y="197.0" width="76.2" height="21.6" rx="0" fill="none" stroke="#111" stroke-width="1.3"/>
<line x1="616.8" y1="194.0" x2="626.4" y2="197.0" stroke="#111" stroke-width="0.9" />
<line x1="616.8" y1="221.6" x2="626.4" y2="218.6" stroke="#111" stroke-width="0.9" />
<line x1="705.8" y1="194.0" x2="702.6" y2="197.0" stroke="#111" stroke-width="0.9" />
<line x1="705.8" y1="221.6" x2="702.6" y2="218.6" stroke="#111" stroke-width="0.9" />
<rect x="626.4" y="195.0" width="76.2" height="2" fill="#777" opacity="0.55"/>
<rect x="626.4" y="218.6" width="76.2" height="2" fill="#777" opacity="0.55"/>
<rect x="741.7" y="194.0" width="87.7" height="27.6" rx="0" fill="none" stroke="#111" stroke-width="1.9"/>
<rect x="745.4" y="197.0" width="75.7" height="21.6" rx="0" fill="none" stroke="#111" stroke-width="1.3"/>
<line x1="741.7" y1="194.0" x2="745.4" y2="197.0" stroke="#111" stroke-width="0.9" />
<line x1="741.7" y1="221.6" x2="745.4" y2="218.6" stroke="#111" stroke-width="0.9" />
<line x1="829.4" y1="194.0" x2="821.1" y2="197.0" stroke="#111" stroke-width="0.9" />
<line x1="829.4" y1="221.6" x2="821.1" y2="218.6" stroke="#111" stroke-width="0.9" />
<rect x="745.4" y="195.0" width="75.7" height="2" fill="#777" opacity="0.55"/>
<rect x="745.4" y="218.6" width="75.7" height="2" fill="#777" opacity="0.55"/>
<rect x="616.8" y="231.7" width="89.0" height="27.6" rx="0" fill="none" stroke="#111" stroke-width="1.9"/>
<rect x="626.4" y="234.7" width="76.2" height="21.6" rx="0" fill="none" stroke="#111" stroke-width="1.3"/>
<line x1="616.8" y1="231.7" x2="626.4" y2="234.7" stroke="#111" stroke-width="0.9" />
<line x1="616.8" y1="259.3" x2="626.4" y2="256.3" stroke="#111" stroke-width="0.9" />
<line x1="705.8" y1="231.7" x2="702.6" y2="234.7" stroke="#111" stroke-width="0.9" />
<line x1="705.8" y1="259.3" x2="702.6" y2="256.3" stroke="#111" stroke-width="0.9" />
<rect x="626.4" y="232.7" width="76.2" height="2" fill="#777" opacity="0.55"/>
<rect x="626.4" y="256.3" width="76.2" height="2" fill="#777" opacity="0.55"/>
<rect x="741.7" y="231.7" width="87.7" height="27.6" rx="0" fill="none" stroke="#111" stroke-width="1.9"/>
<rect x="745.4" y="234.7" width="75.7" height="21.6" rx="0" fill="none" stroke="#111" stroke-width="1.3"/>
<line x1="741.7" y1="231.7" x2="745.4" y2="234.7" stroke="#111" stroke-width="0.9" />
<line x1="741.7" y1="259.3" x2="745.4" y2="256.3" stroke="#111" stroke-width="0.9" />
<line x1="829.4" y1="231.7" x2="821.1" y2="234.7" stroke="#111" stroke-width="0.9" />
<line x1="829.4" y1="259.3" x2="821.1" y2="256.3" stroke="#111" stroke-width="0.9" />
<rect x="745.4" y="232.7" width="75.7" height="2" fill="#777" opacity="0.55"/>
<rect x="745.4" y="256.3" width="75.7" height="2" fill="#777" opacity="0.55"/>
<rect x="616.8" y="269.4" width="89.0" height="27.6" rx="0" fill="none" stroke="#111" stroke-width="1.9"/>
<rect x="626.4" y="272.4" width="76.2" height="21.6" rx="0" fill="none" stroke="#111" stroke-width="1.3"/>
<line x1="616.8" y1="269.4" x2="626.4" y2="272.4" stroke="#111" stroke-width="0.9" />
<line x1="616.8" y1="297.0" x2="626.4" y2="294.0" stroke="#111" stroke-width="0.9" />
<line x1="705.8" y1="269.4" x2="702.6" y2="272.4" stroke="#111" stroke-width="0.9" />
<line x1="705.8" y1="297.0" x2="702.6" y2="294.0" stroke="#111" stroke-width="0.9" />
<rect x="626.4" y="270.4" width="76.2" height="2" fill="#777" opacity="0.55"/>
<rect x="626.4" y="294.0" width="76.2" height="2" fill="#777" opacity="0.55"/>
<rect x="741.7" y="269.4" width="87.7" height="27.6" rx="0" fill="none" stroke="#111" stroke-width="1.9"/>
<rect x="745.4" y="272.4" width="75.7" height="21.6" rx="0" fill="none" stroke="#111" stroke-width="1.3"/>
<line x1="741.7" y1="269.4" x2="745.4" y2="272.4" stroke="#111" stroke-width="0.9" />
<line x1="741.7" y1="297.0" x2="745.4" y2="294.0" stroke="#111" stroke-width="0.9" />
<line x1="829.4" y1="269.4" x2="821.1" y2="272.4" stroke="#111" stroke-width="0.9" />
<line x1="829.4" y1="297.0" x2="821.1" y2="294.0" stroke="#111" stroke-width="0.9" />
<rect x="745.4" y="270.4" width="75.7" height="2" fill="#777" opacity="0.55"/>
<rect x="745.4" y="294.0" width="75.7" height="2" fill="#777" opacity="0.55"/>
<rect x="616.8" y="307.2" width="89.0" height="27.6" rx="0" fill="none" stroke="#111" stroke-width="1.9"/>
<rect x="626.4" y="310.2" width="76.2" height="21.6" rx="0" fill="none" stroke="#111" stroke-width="1.3"/>
<line x1="616.8" y1="307.2" x2="626.4" y2="310.2" stroke="#111" stroke-width="0.9" />
<line x1="616.8" y1="334.8" x2="626.4" y2="331.8" stroke="#111" stroke-width="0.9" />
<line x1="705.8" y1="307.2" x2="702.6" y2="310.2" stroke="#111" stroke-width="0.9" />
<line x1="705.8" y1="334.8" x2="702.6" y2="331.8" stroke="#111" stroke-width="0.9" />
<rect x="626.4" y="308.2" width="76.2" height="2" fill="#777" opacity="0.55"/>
<rect x="626.4" y="331.8" width="76.2" height="2" fill="#777" opacity="0.55"/>
<rect x="741.7" y="307.2" width="87.7" height="27.6" rx="0" fill="none" stroke="#111" stroke-width="1.9"/>
<rect x="745.4" y="310.2" width="75.7" height="21.6" rx="0" fill="none" stroke="#111" stroke-width="1.3"/>
<line x1="741.7" y1="307.2" x2="745.4" y2="310.2" stroke="#111" stroke-width="0.9" />
<line x1="741.7" y1="334.8" x2="745.4" y2="331.8" stroke="#111" stroke-width="0.9" />
<line x1="829.4" y1="307.2" x2="821.1" y2="310.2" stroke="#111" stroke-width="0.9" />
<line x1="829.4" y1="334.8" x2="821.1" y2="331.8" stroke="#111" stroke-width="0.9" />
<rect x="745.4" y="308.2" width="75.7" height="2" fill="#777" opacity="0.55"/>
<rect x="745.4" y="331.8" width="75.7" height="2" fill="#777" opacity="0.55"/>
<rect x="616.8" y="345.0" width="89.0" height="27.6" rx="0" fill="none" stroke="#111" stroke-width="1.9"/>
<rect x="626.4" y="348.0" width="76.2" height="21.6" rx="0" fill="none" stroke="#111" stroke-width="1.3"/>
<line x1="616.8" y1="345.0" x2="626.4" y2="348.0" stroke="#111" stroke-width="0.9" />
<line x1="616.8" y1="372.6" x2="626.4" y2="369.6" stroke="#111" stroke-width="0.9" />
<line x1="705.8" y1="345.0" x2="702.6" y2="348.0" stroke="#111" stroke-width="0.9" />
<line x1="705.8" y1="372.6" x2="702.6" y2="369.6" stroke="#111" stroke-width="0.9" />
<rect x="626.4" y="346.0" width="76.2" height="2" fill="#777" opacity="0.55"/>
<rect x="626.4" y="369.6" width="76.2" height="2" fill="#777" opacity="0.55"/>
<rect x="741.7" y="345.0" width="87.7" height="27.6" rx="0" fill="none" stroke="#111" stroke-width="1.9"/>
<rect x="745.4" y="348.0" width="75.7" height="21.6" rx="0" fill="none" stroke="#111" stroke-width="1.3"/>
<line x1="741.7" y1="345.0" x2="745.4" y2="348.0" stroke="#111" stroke-width="0.9" />
<line x1="741.7" y1="372.6" x2="745.4" y2="369.6" stroke="#111" stroke-width="0.9" />
<line x1="829.4" y1="345.0" x2="821.1" y2="348.0" stroke="#111" stroke-width="0.9" />
<line x1="829.4" y1="372.6" x2="821.1" y2="369.6" stroke="#111" stroke-width="0.9" />
<rect x="745.4" y="346.0" width="75.7" height="2" fill="#777" opacity="0.55"/>
<rect x="745.4" y="369.6" width="75.7" height="2" fill="#777" opacity="0.55"/>
<rect x="616.8" y="382.7" width="89.0" height="27.6" rx="0" fill="none" stroke="#111" stroke-width="1.9"/>
<rect x="626.4" y="385.7" width="76.2" height="21.6" rx="0" fill="none" stroke="#111" stroke-width="1.3"/>
<line x1="616.8" y1="382.7" x2="626.4" y2="385.7" stroke="#111" stroke-width="0.9" />
<line x1="616.8" y1="410.3" x2="626.4" y2="407.3" stroke="#111" stroke-width="0.9" />
<line x1="705.8" y1="382.7" x2="702.6" y2="385.7" stroke="#111" stroke-width="0.9" />
<line x1="705.8" y1="410.3" x2="702.6" y2="407.3" stroke="#111" stroke-width="0.9" />
<rect x="626.4" y="383.7" width="76.2" height="2" fill="#777" opacity="0.55"/>
<rect x="626.4" y="407.3" width="76.2" height="2" fill="#777" opacity="0.55"/>
<rect x="741.7" y="382.7" width="87.7" height="27.6" rx="0" fill="none" stroke="#111" stroke-width="1.9"/>
<rect x="745.4" y="385.7" width="75.7" height="21.6" rx="0" fill="none" stroke="#111" stroke-width="1.3"/>
<line x1="741.7" y1="382.7" x2="745.4" y2="385.7" stroke="#111" stroke-width="0.9" />
<line x1="741.7" y1="410.3" x2="745.4" y2="407.3" stroke="#111" stroke-width="0.9" />
<line x1="829.4" y1="382.7" x2="821.1" y2="385.7" stroke="#111" stroke-width="0.9" />
<line x1="829.4" y1="410.3" x2="821.1" y2="407.3" stroke="#111" stroke-width="0.9" />
<rect x="745.4" y="383.7" width="75.7" height="2" fill="#777" opacity="0.55"/>
<rect x="745.4" y="407.3" width="75.7" height="2" fill="#777" opacity="0.55"/>
<line x1="616.8" y1="431.0" x2="705.8" y2="431.0" stroke="#111" stroke-width="1.9" />
<line x1="626.8" y1="460.5" x2="695.8" y2="460.5" stroke="#444" stroke-width="1.3" />
<line x1="741.7" y1="431.0" x2="829.4" y2="431.0" stroke="#111" stroke-width="1.9" />
<line x1="751.7" y1="460.5" x2="819.4" y2="460.5" stroke="#444" stroke-width="1.3" />
<path d="M617.5 432 L624 460 Q628 478 652 481" fill="none" stroke="#111" stroke-width="1.3" stroke-linejoin="round" />
<path d="M704.5 432 L702 462 Q700 476 694 481" fill="none" stroke="#111" stroke-width="1.3" stroke-linejoin="round" />
<path d="M743 432 L745.5 462 Q747 476 753 481" fill="none" stroke="#111" stroke-width="1.3" stroke-linejoin="round" />
<path d="M829 432 L822 460 Q818 478 794 481" fill="none" stroke="#111" stroke-width="1.3" stroke-linejoin="round" />
<line x1="705.8" y1="431.0" x2="705.8" y2="481.0" stroke="#111" stroke-width="1.9" />
<line x1="741.7" y1="431.0" x2="741.7" y2="481.0" stroke="#111" stroke-width="1.9" />
<line x1="706.6" y1="472.8" x2="740.9" y2="472.8" stroke="#111" stroke-width="1.2" />
<path d="M615.8 183 L615.8 475 Q615.8 481.6 622.5 481.6 L824 481.6 Q830.5 481.6 830.5 475 L830.5 183" fill="none" stroke="#111" stroke-width="2.4" stroke-linejoin="round" />
<path d="M615.8 184 C615.8 172 621 163.5 632.4 162.3 L682.4 157.4" fill="none" stroke="#111" stroke-width="2.3" stroke-linejoin="round" />
<path d="M617 183 Q622 175.5 632 173.2 L683.4 166.2" fill="none" stroke="#111" stroke-width="1.2" stroke-linejoin="round" />
<path d="M682.4 157.6 L682.4 166.2" fill="none" stroke="#111" stroke-width="1.2" stroke-linejoin="round" />
<path d="M682.4 157.6 Q701 161 704 172 L705.9 183" fill="none" stroke="#111" stroke-width="1.2" stroke-linejoin="round" />
<path d="M683.4 166.2 L703 173" fill="none" stroke="#111" stroke-width="1.0" stroke-linejoin="round" />
<line x1="632.0" y1="173.4" x2="703.0" y2="173.4" stroke="#555" stroke-width="0.8" />
<ellipse cx="683" cy="168.5" rx="7.5" ry="1.8" fill="#444" transform="rotate(-8 683 168.5)"/>
<path d="M830.5 184 C830.5 172 825.5 163.5 814 162.3 L764 157.4" fill="none" stroke="#111" stroke-width="2.3" stroke-linejoin="round" />
<path d="M829.5 183 Q824.5 175.5 814.5 173.2 L763 166.2" fill="none" stroke="#111" stroke-width="1.2" stroke-linejoin="round" />
<path d="M764 157.6 L764 166.2" fill="none" stroke="#111" stroke-width="1.2" stroke-linejoin="round" />
<path d="M764 157.6 Q745.5 161 742.5 172 L741.7 183" fill="none" stroke="#111" stroke-width="1.2" stroke-linejoin="round" />
<path d="M763 166.2 L743.5 173" fill="none" stroke="#111" stroke-width="1.0" stroke-linejoin="round" />
<line x1="743.5" y1="173.4" x2="814.5" y2="173.4" stroke="#555" stroke-width="0.8" />
<ellipse cx="764" cy="168.5" rx="7.5" ry="1.8" fill="#444" transform="rotate(8 764 168.5)"/>
<line x1="615.8" y1="183.5" x2="706.0" y2="183.5" stroke="#111" stroke-width="2.0" />
<line x1="741.7" y1="183.5" x2="830.5" y2="183.5" stroke="#111" stroke-width="2.0" />
<rect x="663.8" y="139.2" width="119.4" height="13.1" rx="0" fill="none" stroke="#111" stroke-width="2.2"/>
<path d="M663.5 152.3 Q663 157.5 672.6 157.5 L774 157.5 Q783.5 157.5 783.2 152.3" fill="none" stroke="#111" stroke-width="1.3" stroke-linejoin="round" />
<path d="M672.6 153 Q670 156 672 157.5 M774 153 Q777 156 774.5 157.5" fill="none" stroke="#111" stroke-width="1.0" stroke-linejoin="round" />
<line x1="686.0" y1="163.5" x2="760.0" y2="163.5" stroke="#111" stroke-width="0.9" />
<path d="M706 162 L745 161.5 L741 158 L712 158.5 Z" fill="#1a1a1a"/>
<line x1="672.6" y1="157.2" x2="774.0" y2="157.2" stroke="#111" stroke-width="2.0" />
<path d="M710.6 181 L710.6 196 Q711 206.3 723.5 206.3 Q736 206.3 736.5 196 L736.5 181" fill="none" stroke="#111" stroke-width="1.3" stroke-linejoin="round" />
<circle cx="723.5" cy="180.9" r="13" fill="#fff" stroke="none"/>
<circle cx="723.5" cy="180.9" r="11" fill="none" stroke="#111" stroke-width="3.8"/>
<path d="M710.8 185 Q714 196 723.5 196.5 Q733 196 736.2 185" fill="none" stroke="#111" stroke-width="1.0" stroke-linejoin="round" />
<line x1="615.5" y1="484.0" x2="615.5" y2="513.0" stroke="#777" stroke-width="1.0" />
<line x1="831.0" y1="484.0" x2="831.0" y2="513.0" stroke="#777" stroke-width="1.0" />
<line x1="615.5" y1="504.6" x2="701.7" y2="504.6" stroke="#333" stroke-width="1.1" />
<line x1="744.8" y1="504.6" x2="831.0" y2="504.6" stroke="#333" stroke-width="1.1" />
<path d="M615.7 504.6 L628.7 502.0 L628.7 507.20000000000005 Z" fill="#111"/>
<path d="M830.8 504.6 L817.8 502.0 L817.8 507.20000000000005 Z" fill="#111"/>
<text x="707.5" y="511" font-size="18.6" fill="#111" textLength="28.5" lengthAdjust="spacingAndGlyphs">1300</text>
<circle cx="371.5" cy="671.8" r="107" fill="#fff" stroke="#111" stroke-width="2"/>
<circle cx="371.5" cy="671.8" r="98" fill="none" stroke="#222" stroke-width="0.9"/>
<path d="M352.3 566.4 L329.6 631.7 L266.4 653 L265.2 690.5 L330.1 713.5 L353 777.1 L389.9 776.5 L401.3 741.7 A70.7 70.7 0 0 0 459.5 694.1 L475.8 690.6 L475.8 653 L459.5 649.5 A70.7 70.7 0 0 0 401.3 601.9 L389.9 567.1 Z" fill="#fff" stroke="none"/>
<path d="M352.68 583.28 A90.5 90.5 0 0 1 387.22 582.67" fill="none" stroke="#222" stroke-width="0.9" stroke-linejoin="round" />
<path d="M387.22 760.93 A90.5 90.5 0 0 1 352.68 760.32" fill="none" stroke="#222" stroke-width="0.9" stroke-linejoin="round" />
<path d="M283.60 695.35 A91 91 0 0 1 283.60 648.25" fill="none" stroke="#222" stroke-width="0.9" stroke-linejoin="round" />
<path d="M466.01 649.98 A97 97 0 0 1 466.01 693.62" fill="none" stroke="#222" stroke-width="0.9" stroke-linejoin="round" />
<path d="M352.3 566.4 L329.6 631.7 L266.4 653" fill="none" stroke="#111" stroke-width="1.5" stroke-linejoin="round" />
<path d="M353 777.1 L330.1 713.5 L265.2 690.5" fill="none" stroke="#111" stroke-width="1.5" stroke-linejoin="round" />
<path d="M389.9 567.1 L401.3 601.9 A70.7 70.7 0 0 1 459.5 649.5 L475.8 653" fill="none" stroke="#111" stroke-width="1.5" stroke-linejoin="round" />
<path d="M389.9 776.5 L401.3 741.7 A70.7 70.7 0 0 0 459.5 694.1 L475.8 690.6" fill="none" stroke="#111" stroke-width="1.5" stroke-linejoin="round" />
<path d="M266 658 Q271 672 266 686" fill="none" stroke="#111" stroke-width="1.2" stroke-linejoin="round" />
<path d="M477 658 Q472 672 477 686" fill="none" stroke="#111" stroke-width="1.2" stroke-linejoin="round" />
<circle cx="316.1" cy="621.8" r="10.7" fill="none" stroke="#111" stroke-width="1.5"/>
<circle cx="316.1" cy="621.8" r="5.4" fill="none" stroke="#111" stroke-width="2"/>
<circle cx="316.1" cy="722.4" r="10.2" fill="none" stroke="#111" stroke-width="1.5"/>
<circle cx="301.1" cy="674.1" r="18.6" fill="#fff" stroke="#111" stroke-width="2.8"/>
<circle cx="301.1" cy="674.1" r="15.6" fill="none" stroke="#111" stroke-width="1"/>
<line x1="299.8" y1="668.3" x2="297.7" y2="659.5" stroke="#111" stroke-width="1.5" />
<line x1="301.2" y1="668.1" x2="301.4" y2="659.1" stroke="#111" stroke-width="1.5" />
<line x1="302.4" y1="668.3" x2="304.5" y2="659.5" stroke="#111" stroke-width="1.5" />
<line x1="297.4" y1="678.8" x2="291.9" y2="685.9" stroke="#111" stroke-width="1.5" />
<line x1="296.4" y1="677.9" x2="289.4" y2="683.5" stroke="#111" stroke-width="1.5" />
<line x1="295.7" y1="676.6" x2="287.5" y2="680.4" stroke="#111" stroke-width="1.5" />
<line x1="295.3" y1="675.7" x2="286.6" y2="678.0" stroke="#111" stroke-width="1.5" />
<line x1="306.9" y1="675.7" x2="315.6" y2="678.0" stroke="#111" stroke-width="1.5" />
<line x1="306.5" y1="676.6" x2="314.7" y2="680.4" stroke="#111" stroke-width="1.5" />
<line x1="305.8" y1="677.9" x2="312.8" y2="683.5" stroke="#111" stroke-width="1.5" />
<line x1="304.8" y1="678.8" x2="310.3" y2="685.9" stroke="#111" stroke-width="1.5" />
<line x1="301.1" y1="674.1" x2="288.1" y2="666.6" stroke="#111" stroke-width="5.6" />
<line x1="301.1" y1="674.1" x2="314.1" y2="666.6" stroke="#111" stroke-width="5.6" />
<line x1="301.1" y1="674.1" x2="301.1" y2="689.1" stroke="#111" stroke-width="5.6" />
<line x1="301.1" y1="674.1" x2="289.8" y2="667.6" stroke="#fff" stroke-width="0.9" />
<line x1="301.1" y1="674.1" x2="312.4" y2="667.6" stroke="#fff" stroke-width="0.9" />
<line x1="301.1" y1="674.1" x2="301.1" y2="687.1" stroke="#fff" stroke-width="0.9" />
<circle cx="392.5" cy="672.0" r="60.5" fill="#fff" stroke="#111" stroke-width="2.2"/>
<circle cx="392.5" cy="672.0" r="54" fill="none" stroke="#111" stroke-width="2.6"/>
<circle cx="392.5" cy="672.0" r="49" fill="none" stroke="#111" stroke-width="1.1"/>
<line x1="392.9" y1="661.0" x2="394.1" y2="627.0" stroke="#111" stroke-width="1.1" />
<line x1="396.3" y1="661.7" x2="407.9" y2="629.7" stroke="#111" stroke-width="1.1" />
<line x1="399.3" y1="663.3" x2="420.2" y2="636.5" stroke="#111" stroke-width="1.1" />
<line x1="382.8" y1="677.2" x2="352.8" y2="693.1" stroke="#111" stroke-width="1.1" />
<line x1="381.7" y1="674.1" x2="348.3" y2="680.6" stroke="#111" stroke-width="1.1" />
<line x1="381.6" y1="670.7" x2="347.8" y2="666.5" stroke="#111" stroke-width="1.1" />
<line x1="401.7" y1="678.0" x2="430.2" y2="696.5" stroke="#111" stroke-width="1.1" />
<line x1="399.6" y1="680.4" x2="421.4" y2="706.5" stroke="#111" stroke-width="1.1" />
<line x1="396.6" y1="682.2" x2="409.4" y2="713.7" stroke="#111" stroke-width="1.1" />
<path d="M383.3 619.8 A53 53 0 0 1 431.9 636.5 Q426.7 641.2 423.1 640.3 A44 44 0 0 0 387.9 628.2 Q384.5 626.7 383.3 619.8 Z" fill="#fff" stroke="#111" stroke-width="1.2"/>
<path d="M343.4 691.9 A53 53 0 0 1 344.1 650.4 Q350.5 653.3 351.2 657.0 A44 44 0 0 0 350.7 685.6 Q349.8 689.2 343.4 691.9 Z" fill="#fff" stroke="#111" stroke-width="1.2"/>
<path d="M439.7 696.1 A53 53 0 0 1 401.7 724.2 Q400.5 717.3 403.1 714.7 A44 44 0 0 0 430.2 694.7 Q433.5 692.9 439.7 696.1 Z" fill="#fff" stroke="#111" stroke-width="1.2"/>
<rect x="418" y="703.5" width="9" height="5.5" fill="#111" transform="rotate(-35 422.5 706.2)"/>
<g transform="translate(392.5 672.0) rotate(-133.9)"><rect x="3" y="-4.8" width="44" height="9.6" rx="3.8" fill="#fff" stroke="#111" stroke-width="1.7"/><rect x="5.5" y="-2.6" width="39.5" height="5.2" rx="2.4" fill="none" stroke="#222" stroke-width="1.0"/><path d="M6 -3.7 L45 -3.7 M6 3.7 L45 3.7" stroke="#333" stroke-width="0.9"/><path d="M7 -1.4 L44 -1.4 M7 1.4 L44 1.4" stroke="#777" stroke-width="0.6"/></g>
<g transform="translate(392.5 672.0) rotate(-10.7)"><rect x="3" y="-4.8" width="44" height="9.6" rx="3.8" fill="#fff" stroke="#111" stroke-width="1.7"/><rect x="5.5" y="-2.6" width="39.5" height="5.2" rx="2.4" fill="none" stroke="#222" stroke-width="1.0"/><path d="M6 -3.7 L45 -3.7 M6 3.7 L45 3.7" stroke="#333" stroke-width="0.9"/><path d="M7 -1.4 L44 -1.4 M7 1.4 L44 1.4" stroke="#777" stroke-width="0.6"/></g>
<g transform="translate(392.5 672.0) rotate(111.8)"><rect x="3" y="-4.8" width="44" height="9.6" rx="3.8" fill="#fff" stroke="#111" stroke-width="1.7"/><rect x="5.5" y="-2.6" width="39.5" height="5.2" rx="2.4" fill="none" stroke="#222" stroke-width="1.0"/><path d="M6 -3.7 L45 -3.7 M6 3.7 L45 3.7" stroke="#333" stroke-width="0.9"/><path d="M7 -1.4 L44 -1.4 M7 1.4 L44 1.4" stroke="#777" stroke-width="0.6"/></g>
<circle cx="392.5" cy="672.0" r="5" fill="#fff" stroke="#111" stroke-width="1.3"/>
<circle cx="392.5" cy="672.0" r="1.6" fill="#111"/>
<line x1="265.2" y1="692.0" x2="265.2" y2="829.5" stroke="#666" stroke-width="1.0" />
<line x1="477.6" y1="692.0" x2="477.6" y2="829.5" stroke="#777" stroke-width="1.0" />
<line x1="265.2" y1="822.4" x2="349.7" y2="822.4" stroke="#333" stroke-width="1.1" />
<line x1="392.9" y1="822.4" x2="477.6" y2="822.4" stroke="#333" stroke-width="1.1" />
<path d="M265.4 822.4 L279.4 819.8 L279.4 825.0 Z" fill="#111"/>
<path d="M477.4 822.4 L463.4 819.8 L463.4 825.0 Z" fill="#111"/>
<text x="355.5" y="829.5" font-size="18.6" fill="#111" textLength="28.2" lengthAdjust="spacingAndGlyphs">1300</text>
<path d="M1027.5 507.5 C1031 519.5 1039 531.5 1046.6 538.5" fill="none" stroke="#111" stroke-width="1.5" stroke-linejoin="round" />
<path d="M1027 528.5 C1030 541.5 1038 553.5 1046.6 559.5" fill="none" stroke="#111" stroke-width="1.3" stroke-linejoin="round" />
<path d="M1027.5 507.5 Q1024.5 518.5 1027 528.5" fill="none" stroke="#111" stroke-width="1.5" stroke-linejoin="round" />
<path d="M1027 528.5 Q1025 536.5 1027.5 538.7" fill="none" stroke="#111" stroke-width="1.2" stroke-linejoin="round" />
<path d="M1027.5 538.7 C1031 550.7 1039 562.7 1046.6 569.7" fill="none" stroke="#111" stroke-width="1.5" stroke-linejoin="round" />
<path d="M1027 559.7 C1030 572.7 1038 584.7 1046.6 590.7" fill="none" stroke="#111" stroke-width="1.3" stroke-linejoin="round" />
<path d="M1027.5 538.7 Q1024.5 549.7 1027 559.7" fill="none" stroke="#111" stroke-width="1.5" stroke-linejoin="round" />
<path d="M1027 559.7 Q1025 567.7 1027.5 569.9000000000001" fill="none" stroke="#111" stroke-width="1.2" stroke-linejoin="round" />
<path d="M1027.5 569.9 C1031 581.9 1039 593.9 1046.6 600.9" fill="none" stroke="#111" stroke-width="1.5" stroke-linejoin="round" />
<path d="M1027 590.9 C1030 603.9 1038 615.9 1046.6 621.9" fill="none" stroke="#111" stroke-width="1.3" stroke-linejoin="round" />
<path d="M1027.5 569.9 Q1024.5 580.9 1027 590.9" fill="none" stroke="#111" stroke-width="1.5" stroke-linejoin="round" />
<path d="M1027 590.9 Q1025 598.9 1027.5 601.1" fill="none" stroke="#111" stroke-width="1.2" stroke-linejoin="round" />
<path d="M1027.5 601.1 C1031 613.1 1039 625.1 1046.6 632.1" fill="none" stroke="#111" stroke-width="1.5" stroke-linejoin="round" />
<path d="M1027 622.1 C1030 635.1 1038 647.1 1046.6 653.1" fill="none" stroke="#111" stroke-width="1.3" stroke-linejoin="round" />
<path d="M1027.5 601.1 Q1024.5 612.1 1027 622.1" fill="none" stroke="#111" stroke-width="1.5" stroke-linejoin="round" />
<path d="M1027 622.1 Q1025 630.1 1027.5 632.3000000000001" fill="none" stroke="#111" stroke-width="1.2" stroke-linejoin="round" />
<path d="M1027.5 632.3 C1031 644.3 1039 656.3 1046.6 663.3" fill="none" stroke="#111" stroke-width="1.5" stroke-linejoin="round" />
<path d="M1027 653.3 C1030 666.3 1038 678.3 1046.6 684.3" fill="none" stroke="#111" stroke-width="1.3" stroke-linejoin="round" />
<path d="M1027.5 632.3 Q1024.5 643.3 1027 653.3" fill="none" stroke="#111" stroke-width="1.5" stroke-linejoin="round" />
<path d="M1027 653.3 Q1025 661.3 1027.5 663.5" fill="none" stroke="#111" stroke-width="1.2" stroke-linejoin="round" />
<path d="M1027.5 663.5 C1031 675.5 1039 687.5 1046.6 694.5" fill="none" stroke="#111" stroke-width="1.5" stroke-linejoin="round" />
<path d="M1027 684.5 C1030 697.5 1038 709.5 1046.6 715.5" fill="none" stroke="#111" stroke-width="1.3" stroke-linejoin="round" />
<path d="M1027.5 663.5 Q1024.5 674.5 1027 684.5" fill="none" stroke="#111" stroke-width="1.5" stroke-linejoin="round" />
<path d="M1027 684.5 Q1025 692.5 1027.5 694.7" fill="none" stroke="#111" stroke-width="1.2" stroke-linejoin="round" />
<path d="M1027.5 694.7 C1031 706.7 1039 718.7 1046.6 725.7" fill="none" stroke="#111" stroke-width="1.5" stroke-linejoin="round" />
<path d="M1027 715.7 C1030 728.7 1038 740.7 1046.6 746.7" fill="none" stroke="#111" stroke-width="1.3" stroke-linejoin="round" />
<path d="M1027.5 694.7 Q1024.5 705.7 1027 715.7" fill="none" stroke="#111" stroke-width="1.5" stroke-linejoin="round" />
<path d="M1027 715.7 Q1025 723.7 1027.5 725.9000000000001" fill="none" stroke="#111" stroke-width="1.2" stroke-linejoin="round" />
<path d="M1027.5 725.9 C1031 737.9 1039 749.9 1046.6 756.9" fill="none" stroke="#111" stroke-width="1.5" stroke-linejoin="round" />
<path d="M1027 746.9 C1030 759.9 1038 771.9 1046.6 777.9" fill="none" stroke="#111" stroke-width="1.3" stroke-linejoin="round" />
<path d="M1027.5 725.9 Q1024.5 736.9 1027 746.9" fill="none" stroke="#111" stroke-width="1.5" stroke-linejoin="round" />
<path d="M1027 746.9 Q1025 754.9 1027.5 757.1" fill="none" stroke="#111" stroke-width="1.2" stroke-linejoin="round" />
<path d="M1027.5 507 C1026 515 1026.5 522 1027.5 507.5" fill="none" stroke="#111" stroke-width="1.5" stroke-linejoin="round" />
<path d="M1027.5 756 Q1030 768 1046.7 771" fill="none" stroke="#111" stroke-width="1.5" stroke-linejoin="round" />
<line x1="1046.6" y1="533.0" x2="1046.6" y2="771.0" stroke="#111" stroke-width="1.6" />
<line x1="1060.2" y1="556.0" x2="1060.2" y2="781.3" stroke="#111" stroke-width="1.5" />
<path d="M1046.7 771 L1061.4 781.3" fill="none" stroke="#111" stroke-width="1.5" stroke-linejoin="round" />
<path d="M1061.4 781.3 Q1120 747 1175.8 715.4 L1203 701 Q1211 696 1211 688 L1211 471" fill="none" stroke="#111" stroke-width="1.8" stroke-linejoin="round" />
<path d="M1060.2 556 L1071 551" fill="none" stroke="#111" stroke-width="1.2" stroke-linejoin="round" />
<path d="M1060.5 687.5 L1072.6 683.7" fill="none" stroke="#111" stroke-width="0.8" stroke-linejoin="round" />
<path d="M1196.3 683.7 L1209.3 691.2" fill="none" stroke="#111" stroke-width="0.8" stroke-linejoin="round" />
<path d="M1060.5 700.5 Q1085 692 1105 697.7" fill="none" stroke="#111" stroke-width="0.8" stroke-linejoin="round" />
<path d="M1162.8 697.7 Q1185 693 1203.8 700.5" fill="none" stroke="#111" stroke-width="0.8" stroke-linejoin="round" />
<path d="M1071.6 647.5 L1107.9 639" fill="none" stroke="#111" stroke-width="1.4" stroke-linejoin="round" />
<path d="M1162.8 640 L1195.4 648.4" fill="none" stroke="#111" stroke-width="1.4" stroke-linejoin="round" />
<path d="M1071.6 647.5 Q1073 665 1077.2 672.6 Q1088 692 1105.1 697.7 Q1133 692 1162.8 697.7 Q1182 690 1188.9 674.4 Q1194 660 1195.4 648.4" fill="none" stroke="#111" stroke-width="1.3" stroke-linejoin="round" />
<path d="M1077.2 672.6 Q1133 656 1188.9 673.5" fill="none" stroke="#333" stroke-width="0.8" stroke-linejoin="round" />
<path d="M1175.8 715.4 Q1150 703 1123.7 705.1 Q1085 710 1074.4 737.7 Q1074 752 1094 763.8" fill="none" stroke="#111" stroke-width="1.4" stroke-linejoin="round" />
<path d="M1071.7 547.9 Q1090 544.9 1107.8 541.4 L1107.8 564.0 Q1092 567.0 1079.8 570.5 L1071.7 570.5 Z" fill="#fff" stroke="#111" stroke-width="1.3" stroke-linejoin="round" />
<path d="M1071.7 547.9 L1079.8 551.2 Q1094 547.7 1107.8 544.7" fill="none" stroke="#111" stroke-width="1.3" stroke-linejoin="round" />
<line x1="1079.8" y1="551.2" x2="1079.8" y2="570.5" stroke="#111" stroke-width="1.9" />
<path d="M1071.7 578.1 Q1090 575.1 1107.8 571.6 L1107.8 595.3 Q1092 598.3 1079.8 601.8 L1071.7 601.8 Z" fill="#fff" stroke="#111" stroke-width="1.3" stroke-linejoin="round" />
<path d="M1071.7 578.1 L1079.8 582.4 Q1094 578.9 1107.8 575.9" fill="none" stroke="#111" stroke-width="1.3" stroke-linejoin="round" />
<line x1="1079.8" y1="582.4" x2="1079.8" y2="601.8" stroke="#111" stroke-width="1.9" />
<path d="M1071.7 609.3 Q1090 606.3 1107.8 602.8 L1107.8 626.0 Q1092 629.0 1079.8 632.5 L1071.7 632.5 Z" fill="#fff" stroke="#111" stroke-width="1.3" stroke-linejoin="round" />
<path d="M1071.7 609.3 L1079.8 613.6 Q1094 610.1 1107.8 607.1" fill="none" stroke="#111" stroke-width="1.3" stroke-linejoin="round" />
<line x1="1079.8" y1="613.6" x2="1079.8" y2="632.5" stroke="#111" stroke-width="1.9" />
<path d="M1182 487 L1196.2 483 L1196.2 509.7 L1182 509.7 Z" fill="#fff" stroke="#111" stroke-width="1.3" stroke-linejoin="round" />
<line x1="1187.0" y1="486.0" x2="1187.0" y2="509.7" stroke="#111" stroke-width="1.0" />
<path d="M1182 517.5 L1196.2 513.5 L1196.2 541 L1182 541 Z" fill="#fff" stroke="#111" stroke-width="1.3" stroke-linejoin="round" />
<line x1="1187.0" y1="516.5" x2="1187.0" y2="541.0" stroke="#111" stroke-width="1.0" />
<path d="M1182 544 L1196.2 540 L1196.2 570.6 L1182 570.6 Z" fill="#fff" stroke="#111" stroke-width="1.3" stroke-linejoin="round" />
<line x1="1187.0" y1="543.0" x2="1187.0" y2="570.6" stroke="#111" stroke-width="1.0" />
<path d="M1182 578.3 L1196.2 574.3 L1196.2 601.2 L1182 601.2 Z" fill="#fff" stroke="#111" stroke-width="1.3" stroke-linejoin="round" />
<line x1="1187.0" y1="577.3" x2="1187.0" y2="601.2" stroke="#111" stroke-width="1.0" />
<path d="M1182 609 L1196.2 605 L1196.2 633 L1182 633 Z" fill="#fff" stroke="#111" stroke-width="1.3" stroke-linejoin="round" />
<line x1="1187.0" y1="608.0" x2="1187.0" y2="633.0" stroke="#111" stroke-width="1.0" />
<path d="M1108.6 494.2 L1108.6 641.1 L1135.6 653.2 L1135.6 497.9" fill="#fff" stroke="#111" stroke-width="1.6" stroke-linejoin="round" />
<path d="M1117 487.7 L1135.6 497.9 M1116 491.5 L1134 501" fill="none" stroke="#111" stroke-width="1.3" stroke-linejoin="round" />
<line x1="1108.6" y1="561.1" x2="1135.6" y2="576.0" stroke="#111" stroke-width="1.2" />
<path d="M1135.6 543.5 Q1158 541 1179.3 548.1" fill="none" stroke="#111" stroke-width="1.1" stroke-linejoin="round" />
<path d="M1135.6 628 Q1158 622 1179.3 624.4" fill="none" stroke="#111" stroke-width="1.1" stroke-linejoin="round" />
<path d="M1135.6 653.2 Q1160 642 1181.1 629" fill="none" stroke="#111" stroke-width="1.2" stroke-linejoin="round" />
<path d="M1181.1 484.9 L1180 629" fill="none" stroke="#111" stroke-width="1.6" stroke-linejoin="round" />
<path d="M1108.6 494.2 L1110 484 L1113 489 L1115 482 L1117 487.7" fill="none" stroke="#111" stroke-width="1.3" stroke-linejoin="round" />
<ellipse cx="1111.5" cy="600.0" rx="1.8" ry="1.6" fill="#222" stroke="#111" stroke-width="1.0" transform="rotate(0 1111.5 600.0)"/>
<ellipse cx="1118.0" cy="603.0" rx="1.8" ry="1.6" fill="#222" stroke="#111" stroke-width="1.0" transform="rotate(0 1118.0 603.0)"/>
<ellipse cx="1124.5" cy="606.0" rx="1.8" ry="1.6" fill="#222" stroke="#111" stroke-width="1.0" transform="rotate(0 1124.5 606.0)"/>
<ellipse cx="1131.0" cy="609.0" rx="1.8" ry="1.6" fill="#222" stroke="#111" stroke-width="1.0" transform="rotate(0 1131.0 609.0)"/>
<ellipse cx="1111.5" cy="607.5" rx="1.8" ry="1.6" fill="#222" stroke="#111" stroke-width="1.0" transform="rotate(0 1111.5 607.5)"/>
<ellipse cx="1118.0" cy="610.5" rx="1.8" ry="1.6" fill="#222" stroke="#111" stroke-width="1.0" transform="rotate(0 1118.0 610.5)"/>
<ellipse cx="1124.5" cy="613.5" rx="1.8" ry="1.6" fill="#222" stroke="#111" stroke-width="1.0" transform="rotate(0 1124.5 613.5)"/>
<ellipse cx="1131.0" cy="616.5" rx="1.8" ry="1.6" fill="#222" stroke="#111" stroke-width="1.0" transform="rotate(0 1131.0 616.5)"/>
<ellipse cx="1111.5" cy="615.0" rx="1.8" ry="1.6" fill="#222" stroke="#111" stroke-width="1.0" transform="rotate(0 1111.5 615.0)"/>
<ellipse cx="1118.0" cy="618.0" rx="1.8" ry="1.6" fill="#222" stroke="#111" stroke-width="1.0" transform="rotate(0 1118.0 618.0)"/>
<ellipse cx="1124.5" cy="621.0" rx="1.8" ry="1.6" fill="#222" stroke="#111" stroke-width="1.0" transform="rotate(0 1124.5 621.0)"/>
<ellipse cx="1131.0" cy="624.0" rx="1.8" ry="1.6" fill="#222" stroke="#111" stroke-width="1.0" transform="rotate(0 1131.0 624.0)"/>
<ellipse cx="1111.5" cy="622.5" rx="1.8" ry="1.6" fill="#222" stroke="#111" stroke-width="1.0" transform="rotate(0 1111.5 622.5)"/>
<ellipse cx="1118.0" cy="625.5" rx="1.8" ry="1.6" fill="#222" stroke="#111" stroke-width="1.0" transform="rotate(0 1118.0 625.5)"/>
<ellipse cx="1124.5" cy="628.5" rx="1.8" ry="1.6" fill="#222" stroke="#111" stroke-width="1.0" transform="rotate(0 1124.5 628.5)"/>
<ellipse cx="1131.0" cy="631.5" rx="1.8" ry="1.6" fill="#222" stroke="#111" stroke-width="1.0" transform="rotate(0 1131.0 631.5)"/>
<ellipse cx="1111.5" cy="630.0" rx="1.8" ry="1.6" fill="#222" stroke="#111" stroke-width="1.0" transform="rotate(0 1111.5 630.0)"/>
<ellipse cx="1118.0" cy="633.0" rx="1.8" ry="1.6" fill="#222" stroke="#111" stroke-width="1.0" transform="rotate(0 1118.0 633.0)"/>
<ellipse cx="1124.5" cy="636.0" rx="1.8" ry="1.6" fill="#222" stroke="#111" stroke-width="1.0" transform="rotate(0 1124.5 636.0)"/>
<ellipse cx="1131.0" cy="639.0" rx="1.8" ry="1.6" fill="#222" stroke="#111" stroke-width="1.0" transform="rotate(0 1131.0 639.0)"/>
<ellipse cx="1111.5" cy="637.5" rx="1.8" ry="1.6" fill="#222" stroke="#111" stroke-width="1.0" transform="rotate(0 1111.5 637.5)"/>
<ellipse cx="1118.0" cy="640.5" rx="1.8" ry="1.6" fill="#222" stroke="#111" stroke-width="1.0" transform="rotate(0 1118.0 640.5)"/>
<ellipse cx="1124.5" cy="643.5" rx="1.8" ry="1.6" fill="#222" stroke="#111" stroke-width="1.0" transform="rotate(0 1124.5 643.5)"/>
<ellipse cx="1131.0" cy="646.5" rx="1.8" ry="1.6" fill="#222" stroke="#111" stroke-width="1.0" transform="rotate(0 1131.0 646.5)"/>
<ellipse cx="1139.5" cy="614.0" rx="2.0" ry="1.5" fill="none" stroke="#111" stroke-width="1.1" transform="rotate(0 1139.5 614.0)"/>
<ellipse cx="1144.4" cy="613.1" rx="2.0" ry="1.5" fill="none" stroke="#111" stroke-width="1.1" transform="rotate(0 1144.4 613.1)"/>
<ellipse cx="1149.3" cy="612.2" rx="2.0" ry="1.5" fill="none" stroke="#111" stroke-width="1.1" transform="rotate(0 1149.3 612.2)"/>
<ellipse cx="1154.2" cy="611.3" rx="2.0" ry="1.5" fill="none" stroke="#111" stroke-width="1.1" transform="rotate(0 1154.2 611.3)"/>
<ellipse cx="1159.1" cy="610.4" rx="2.0" ry="1.5" fill="none" stroke="#111" stroke-width="1.1" transform="rotate(0 1159.1 610.4)"/>
<ellipse cx="1164.0" cy="609.5" rx="2.0" ry="1.5" fill="none" stroke="#111" stroke-width="1.1" transform="rotate(0 1164.0 609.5)"/>
<ellipse cx="1168.9" cy="608.6" rx="2.0" ry="1.5" fill="none" stroke="#111" stroke-width="1.1" transform="rotate(0 1168.9 608.6)"/>
<ellipse cx="1173.8" cy="607.7" rx="2.0" ry="1.5" fill="none" stroke="#111" stroke-width="1.1" transform="rotate(0 1173.8 607.7)"/>
<ellipse cx="1139.5" cy="618.4" rx="2.0" ry="1.5" fill="none" stroke="#111" stroke-width="1.1" transform="rotate(0 1139.5 618.4)"/>
<ellipse cx="1144.4" cy="617.5" rx="2.0" ry="1.5" fill="none" stroke="#111" stroke-width="1.1" transform="rotate(0 1144.4 617.5)"/>
<ellipse cx="1149.3" cy="616.6" rx="2.0" ry="1.5" fill="none" stroke="#111" stroke-width="1.1" transform="rotate(0 1149.3 616.6)"/>
<ellipse cx="1154.2" cy="615.7" rx="2.0" ry="1.5" fill="none" stroke="#111" stroke-width="1.1" transform="rotate(0 1154.2 615.7)"/>
<ellipse cx="1159.1" cy="614.8" rx="2.0" ry="1.5" fill="none" stroke="#111" stroke-width="1.1" transform="rotate(0 1159.1 614.8)"/>
<ellipse cx="1164.0" cy="613.9" rx="2.0" ry="1.5" fill="none" stroke="#111" stroke-width="1.1" transform="rotate(0 1164.0 613.9)"/>
<ellipse cx="1168.9" cy="613.0" rx="2.0" ry="1.5" fill="none" stroke="#111" stroke-width="1.1" transform="rotate(0 1168.9 613.0)"/>
<ellipse cx="1173.8" cy="612.1" rx="2.0" ry="1.5" fill="none" stroke="#111" stroke-width="1.1" transform="rotate(0 1173.8 612.1)"/>
<ellipse cx="1139.5" cy="622.8" rx="2.0" ry="1.5" fill="none" stroke="#111" stroke-width="1.1" transform="rotate(0 1139.5 622.8)"/>
<ellipse cx="1144.4" cy="621.9" rx="2.0" ry="1.5" fill="none" stroke="#111" stroke-width="1.1" transform="rotate(0 1144.4 621.9)"/>
<ellipse cx="1149.3" cy="621.0" rx="2.0" ry="1.5" fill="none" stroke="#111" stroke-width="1.1" transform="rotate(0 1149.3 621.0)"/>
<ellipse cx="1154.2" cy="620.1" rx="2.0" ry="1.5" fill="none" stroke="#111" stroke-width="1.1" transform="rotate(0 1154.2 620.1)"/>
<ellipse cx="1159.1" cy="619.2" rx="2.0" ry="1.5" fill="none" stroke="#111" stroke-width="1.1" transform="rotate(0 1159.1 619.2)"/>
<ellipse cx="1164.0" cy="618.3" rx="2.0" ry="1.5" fill="none" stroke="#111" stroke-width="1.1" transform="rotate(0 1164.0 618.3)"/>
<ellipse cx="1168.9" cy="617.4" rx="2.0" ry="1.5" fill="none" stroke="#111" stroke-width="1.1" transform="rotate(0 1168.9 617.4)"/>
<ellipse cx="1173.8" cy="616.5" rx="2.0" ry="1.5" fill="none" stroke="#111" stroke-width="1.1" transform="rotate(0 1173.8 616.5)"/>
<ellipse cx="1139.5" cy="627.2" rx="2.0" ry="1.5" fill="none" stroke="#111" stroke-width="1.1" transform="rotate(0 1139.5 627.2)"/>
<ellipse cx="1144.4" cy="626.3" rx="2.0" ry="1.5" fill="none" stroke="#111" stroke-width="1.1" transform="rotate(0 1144.4 626.3)"/>
<ellipse cx="1149.3" cy="625.4" rx="2.0" ry="1.5" fill="none" stroke="#111" stroke-width="1.1" transform="rotate(0 1149.3 625.4)"/>
<ellipse cx="1154.2" cy="624.5" rx="2.0" ry="1.5" fill="none" stroke="#111" stroke-width="1.1" transform="rotate(0 1154.2 624.5)"/>
<ellipse cx="1159.1" cy="623.6" rx="2.0" ry="1.5" fill="none" stroke="#111" stroke-width="1.1" transform="rotate(0 1159.1 623.6)"/>
<ellipse cx="1164.0" cy="622.7" rx="2.0" ry="1.5" fill="none" stroke="#111" stroke-width="1.1" transform="rotate(0 1164.0 622.7)"/>
<ellipse cx="1168.9" cy="621.8" rx="2.0" ry="1.5" fill="none" stroke="#111" stroke-width="1.1" transform="rotate(0 1168.9 621.8)"/>
<ellipse cx="1173.8" cy="620.9" rx="2.0" ry="1.5" fill="none" stroke="#111" stroke-width="1.1" transform="rotate(0 1173.8 620.9)"/>
<ellipse cx="1139.5" cy="631.6" rx="2.0" ry="1.5" fill="none" stroke="#111" stroke-width="1.1" transform="rotate(0 1139.5 631.6)"/>
<ellipse cx="1144.4" cy="630.7" rx="2.0" ry="1.5" fill="none" stroke="#111" stroke-width="1.1" transform="rotate(0 1144.4 630.7)"/>
<ellipse cx="1149.3" cy="629.8" rx="2.0" ry="1.5" fill="none" stroke="#111" stroke-width="1.1" transform="rotate(0 1149.3 629.8)"/>
<ellipse cx="1154.2" cy="628.9" rx="2.0" ry="1.5" fill="none" stroke="#111" stroke-width="1.1" transform="rotate(0 1154.2 628.9)"/>
<ellipse cx="1159.1" cy="628.0" rx="2.0" ry="1.5" fill="none" stroke="#111" stroke-width="1.1" transform="rotate(0 1159.1 628.0)"/>
<ellipse cx="1164.0" cy="627.1" rx="2.0" ry="1.5" fill="none" stroke="#111" stroke-width="1.1" transform="rotate(0 1164.0 627.1)"/>
<ellipse cx="1168.9" cy="626.2" rx="2.0" ry="1.5" fill="none" stroke="#111" stroke-width="1.1" transform="rotate(0 1168.9 626.2)"/>
<ellipse cx="1173.8" cy="625.3" rx="2.0" ry="1.5" fill="none" stroke="#111" stroke-width="1.1" transform="rotate(0 1173.8 625.3)"/>
<ellipse cx="1139.5" cy="636.0" rx="2.0" ry="1.5" fill="none" stroke="#111" stroke-width="1.1" transform="rotate(0 1139.5 636.0)"/>
<ellipse cx="1144.4" cy="635.1" rx="2.0" ry="1.5" fill="none" stroke="#111" stroke-width="1.1" transform="rotate(0 1144.4 635.1)"/>
<ellipse cx="1149.3" cy="634.2" rx="2.0" ry="1.5" fill="none" stroke="#111" stroke-width="1.1" transform="rotate(0 1149.3 634.2)"/>
<ellipse cx="1154.2" cy="633.3" rx="2.0" ry="1.5" fill="none" stroke="#111" stroke-width="1.1" transform="rotate(0 1154.2 633.3)"/>
<ellipse cx="1159.1" cy="632.4" rx="2.0" ry="1.5" fill="none" stroke="#111" stroke-width="1.1" transform="rotate(0 1159.1 632.4)"/>
<ellipse cx="1164.0" cy="631.5" rx="2.0" ry="1.5" fill="none" stroke="#111" stroke-width="1.1" transform="rotate(0 1164.0 631.5)"/>
<ellipse cx="1168.9" cy="630.6" rx="2.0" ry="1.5" fill="none" stroke="#111" stroke-width="1.1" transform="rotate(0 1168.9 630.6)"/>
<ellipse cx="1139.5" cy="640.4" rx="2.0" ry="1.5" fill="none" stroke="#111" stroke-width="1.1" transform="rotate(0 1139.5 640.4)"/>
<ellipse cx="1144.4" cy="639.5" rx="2.0" ry="1.5" fill="none" stroke="#111" stroke-width="1.1" transform="rotate(0 1144.4 639.5)"/>
<ellipse cx="1149.3" cy="638.6" rx="2.0" ry="1.5" fill="none" stroke="#111" stroke-width="1.1" transform="rotate(0 1149.3 638.6)"/>
<ellipse cx="1154.2" cy="637.7" rx="2.0" ry="1.5" fill="none" stroke="#111" stroke-width="1.1" transform="rotate(0 1154.2 637.7)"/>
<ellipse cx="1159.1" cy="636.8" rx="2.0" ry="1.5" fill="none" stroke="#111" stroke-width="1.1" transform="rotate(0 1159.1 636.8)"/>
<ellipse cx="1164.0" cy="635.9" rx="2.0" ry="1.5" fill="none" stroke="#111" stroke-width="1.1" transform="rotate(0 1164.0 635.9)"/>
<ellipse cx="1139.5" cy="644.8" rx="2.0" ry="1.5" fill="none" stroke="#111" stroke-width="1.1" transform="rotate(0 1139.5 644.8)"/>
<ellipse cx="1144.4" cy="643.9" rx="2.0" ry="1.5" fill="none" stroke="#111" stroke-width="1.1" transform="rotate(0 1144.4 643.9)"/>
<ellipse cx="1149.3" cy="643.0" rx="2.0" ry="1.5" fill="none" stroke="#111" stroke-width="1.1" transform="rotate(0 1149.3 643.0)"/>
<ellipse cx="1154.2" cy="642.1" rx="2.0" ry="1.5" fill="none" stroke="#111" stroke-width="1.1" transform="rotate(0 1154.2 642.1)"/>
<path d="M1183.6 485 L1189.5 482 L1195.4 486 L1195.4 508.6 L1183.6 508.6 Z" fill="#fff" stroke="#111" stroke-width="1.4" stroke-linejoin="round" />
<line x1="1189.5" y1="483.0" x2="1189.5" y2="508.6" stroke="#111" stroke-width="1.1" />
<line x1="1183.6" y1="485.0" x2="1189.5" y2="488.0" stroke="#111" stroke-width="1.0" />
<line x1="1189.5" y1="488.0" x2="1195.4" y2="486.0" stroke="#111" stroke-width="1.0" />
<path d="M1183.6 515.5 L1189.5 512.5 L1195.4 516.5 L1195.4 540 L1183.6 540 Z" fill="#fff" stroke="#111" stroke-width="1.4" stroke-linejoin="round" />
<line x1="1189.5" y1="513.5" x2="1189.5" y2="540.0" stroke="#111" stroke-width="1.1" />
<line x1="1183.6" y1="515.5" x2="1189.5" y2="518.5" stroke="#111" stroke-width="1.0" />
<line x1="1189.5" y1="518.5" x2="1195.4" y2="516.5" stroke="#111" stroke-width="1.0" />
<path d="M1183.6 546 L1189.5 543 L1195.4 547 L1195.4 570.4 L1183.6 570.4 Z" fill="#fff" stroke="#111" stroke-width="1.4" stroke-linejoin="round" />
<line x1="1189.5" y1="544.0" x2="1189.5" y2="570.4" stroke="#111" stroke-width="1.1" />
<line x1="1183.6" y1="546.0" x2="1189.5" y2="549.0" stroke="#111" stroke-width="1.0" />
<line x1="1189.5" y1="549.0" x2="1195.4" y2="547.0" stroke="#111" stroke-width="1.0" />
<path d="M1183.6 576.3 L1189.5 573.3 L1195.4 577.3 L1195.4 601.8 L1183.6 601.8 Z" fill="#fff" stroke="#111" stroke-width="1.4" stroke-linejoin="round" />
<line x1="1189.5" y1="574.3" x2="1189.5" y2="601.8" stroke="#111" stroke-width="1.1" />
<line x1="1183.6" y1="576.3" x2="1189.5" y2="579.3" stroke="#111" stroke-width="1.0" />
<line x1="1189.5" y1="579.3" x2="1195.4" y2="577.3" stroke="#111" stroke-width="1.0" />
<path d="M1183.6 607.7 L1189.5 604.7 L1195.4 608.7 L1195.4 633.1 L1183.6 633.1 Z" fill="#fff" stroke="#111" stroke-width="1.4" stroke-linejoin="round" />
<line x1="1189.5" y1="605.7" x2="1189.5" y2="633.1" stroke="#111" stroke-width="1.1" />
<line x1="1183.6" y1="607.7" x2="1189.5" y2="610.7" stroke="#111" stroke-width="1.0" />
<line x1="1189.5" y1="610.7" x2="1195.4" y2="608.7" stroke="#111" stroke-width="1.0" />
<use href="#carrier" transform="translate(1143.9 529.5) scale(0.92)"/>
<use href="#carrier" transform="translate(1170.0 519.3) scale(0.92)"/>
<use href="#carrier" transform="translate(1157.0 548.1) scale(0.92)"/>
<use href="#carrier" transform="translate(1171.8 557.4) scale(0.92)"/>
<use href="#carrier" transform="translate(1144.9 566.7) scale(0.92)"/>
<use href="#carrier" transform="translate(1158.8 585.3) scale(0.92)"/>
<use href="#carrier" transform="translate(1172.8 583.4) scale(0.92)"/>
<use href="#carrier" transform="translate(1144.0 592.7) scale(0.92)"/>
<use href="#carrier" transform="translate(1170.9 607.6) scale(0.92)"/>
<use href="#carrier" transform="translate(1145.8 615.0) scale(0.92)"/>
<ellipse cx="1140" cy="588" rx="2.4" ry="1.6" fill="none" stroke="#111" stroke-width="1.0" transform="rotate(0 1140 588)"/>
<ellipse cx="1151" cy="600" rx="2.4" ry="1.6" fill="none" stroke="#111" stroke-width="1.0" transform="rotate(0 1151 600)"/>
<ellipse cx="1163" cy="593" rx="2.4" ry="1.6" fill="none" stroke="#111" stroke-width="1.0" transform="rotate(0 1163 593)"/>
<ellipse cx="1178" cy="596" rx="2.4" ry="1.6" fill="none" stroke="#111" stroke-width="1.0" transform="rotate(0 1178 596)"/>
<ellipse cx="1160" cy="610" rx="2.4" ry="1.6" fill="none" stroke="#111" stroke-width="1.0" transform="rotate(0 1160 610)"/>
<ellipse cx="1166" cy="602" rx="2.4" ry="1.6" fill="none" stroke="#111" stroke-width="1.0" transform="rotate(0 1166 602)"/>
<ellipse cx="1178" cy="612" rx="2.4" ry="1.6" fill="none" stroke="#111" stroke-width="1.0" transform="rotate(0 1178 612)"/>
<ellipse cx="1150" cy="620" rx="2.4" ry="1.6" fill="none" stroke="#111" stroke-width="1.0" transform="rotate(0 1150 620)"/>
<ellipse cx="1155" cy="575" rx="2.4" ry="1.6" fill="none" stroke="#111" stroke-width="1.0" transform="rotate(0 1155 575)"/>
<ellipse cx="1139" cy="603" rx="2.4" ry="1.6" fill="none" stroke="#111" stroke-width="1.0" transform="rotate(0 1139 603)"/>
<ellipse cx="1165" cy="621" rx="2.4" ry="1.6" fill="none" stroke="#111" stroke-width="1.0" transform="rotate(0 1165 621)"/>
<path d="M1026.6 507 C1026 485 1030 472 1034.6 467.3 C1040 458 1050 448 1063.7 440.9 C1072 437 1080 434.5 1094 433.6 L1100 434" fill="none" stroke="#111" stroke-width="1.8" stroke-linejoin="round" />
<path d="M1050.4 451.5 C1060 444 1072 438 1083.5 436.9" fill="none" stroke="#111" stroke-width="0.9" stroke-linejoin="round" />
<path d="M1046.5 455.4 L1051.7 451.6 L1076.5 472.5 L1074.2 476.5 Z" fill="#fff" stroke="#111" stroke-width="1.4" stroke-linejoin="round" />
<path d="M1074.2 476.5 L1050.4 517.6 L1046.5 531" fill="none" stroke="#111" stroke-width="1.5" stroke-linejoin="round" />
<path d="M1037.2 467.3 C1034 485 1038 505 1047.8 517.6" fill="none" stroke="#111" stroke-width="0.9" stroke-linejoin="round" />
<path d="M1055.7 507 Q1064 513 1072.9 516.3" fill="none" stroke="#111" stroke-width="0.9" stroke-linejoin="round" />
<path d="M1049.5 486.5 L1053.5 481.5 L1063 481 L1067.5 486.5 L1063.5 491.5 L1054 492 Z" fill="none" stroke="#111" stroke-width="1.3" stroke-linejoin="round" />
<ellipse cx="1058.4" cy="486.5" rx="3.8" ry="2.2" fill="none" stroke="#111" stroke-width="1.8" transform="rotate(0 1058.4 486.5)"/>
<ellipse cx="1086.1" cy="507.5" rx="18.3" ry="12.2" fill="none" stroke="#111" stroke-width="1.6" transform="rotate(-10 1086.1 507.5)"/>
<ellipse cx="1086.1" cy="505.7" rx="18.5" ry="12.4" fill="#fff" stroke="#111" stroke-width="2.6" transform="rotate(-10 1086.1 505.7)"/>
<line x1="1086.1" y1="505.7" x2="1101.1" y2="505.7" stroke="#111" stroke-width="0.9" />
<line x1="1086.1" y1="505.7" x2="1100.2" y2="509.1" stroke="#111" stroke-width="0.9" />
<line x1="1086.1" y1="505.7" x2="1097.6" y2="512.0" stroke="#111" stroke-width="0.9" />
<line x1="1086.1" y1="505.7" x2="1093.6" y2="514.2" stroke="#111" stroke-width="0.9" />
<line x1="1086.1" y1="505.7" x2="1088.7" y2="515.4" stroke="#111" stroke-width="0.9" />
<line x1="1086.1" y1="505.7" x2="1083.5" y2="515.4" stroke="#111" stroke-width="0.9" />
<line x1="1086.1" y1="505.7" x2="1078.6" y2="514.2" stroke="#111" stroke-width="0.9" />
<line x1="1086.1" y1="505.7" x2="1074.6" y2="512.0" stroke="#111" stroke-width="0.9" />
<line x1="1086.1" y1="505.7" x2="1072.0" y2="509.1" stroke="#111" stroke-width="0.9" />
<line x1="1086.1" y1="505.7" x2="1071.1" y2="505.7" stroke="#111" stroke-width="0.9" />
<line x1="1086.1" y1="505.7" x2="1072.0" y2="502.3" stroke="#111" stroke-width="0.9" />
<line x1="1086.1" y1="505.7" x2="1074.6" y2="499.4" stroke="#111" stroke-width="0.9" />
<line x1="1086.1" y1="505.7" x2="1078.6" y2="497.2" stroke="#111" stroke-width="0.9" />
<line x1="1086.1" y1="505.7" x2="1083.5" y2="496.0" stroke="#111" stroke-width="0.9" />
<line x1="1086.1" y1="505.7" x2="1088.7" y2="496.0" stroke="#111" stroke-width="0.9" />
<line x1="1086.1" y1="505.7" x2="1093.6" y2="497.2" stroke="#111" stroke-width="0.9" />
<line x1="1086.1" y1="505.7" x2="1097.6" y2="499.4" stroke="#111" stroke-width="0.9" />
<line x1="1086.1" y1="505.7" x2="1100.2" y2="502.3" stroke="#111" stroke-width="0.9" />
<line x1="1086.1" y1="505.7" x2="1093.1" y2="497.9" stroke="#111" stroke-width="2.2" />
<line x1="1086.1" y1="505.7" x2="1093.1" y2="513.5" stroke="#111" stroke-width="2.2" />
<line x1="1086.1" y1="505.7" x2="1072.1" y2="505.7" stroke="#111" stroke-width="2.2" />
<path d="M1098 503 L1104 497 L1103 493 L1108 492 L1107 488 L1112 487 L1115 485.8" fill="none" stroke="#111" stroke-width="1.3" stroke-linejoin="round" />
<path d="M1100 506 L1106 500 L1105 496 L1110 495 L1109 491 L1114 490" fill="none" stroke="#111" stroke-width="1.0" stroke-linejoin="round" />
<path d="M1079.5 520 L1098 517.6 Q1106 518 1104.7 527 L1100 538 Q1092 542 1079.5 540 Z" fill="#fff" stroke="#111" stroke-width="1.3" stroke-linejoin="round" />
<path d="M1062.3 525.5 L1073 520.2 L1079.5 519 L1079.5 541 L1070 546 L1064 546" fill="#fff" stroke="#111" stroke-width="1.3" stroke-linejoin="round" />
<line x1="1073.0" y1="520.2" x2="1073.0" y2="545.0" stroke="#111" stroke-width="1.6" />
<line x1="1076.0" y1="519.5" x2="1076.0" y2="543.0" stroke="#111" stroke-width="1.0" />
<path d="M1087 519 Q1092 528 1090 540" fill="none" stroke="#111" stroke-width="0.9" stroke-linejoin="round" />
<ellipse cx="1058.4" cy="536.1" rx="7.6" ry="10.3" fill="#fff" stroke="#111" stroke-width="1.8" transform="rotate(-25 1058.4 536.1)"/>
<line x1="1072.9" y1="548.0" x2="1107.0" y2="548.0" stroke="#111" stroke-width="1.2" />
<path d="M1089.5 458 C1088 470 1096 480 1110 484 C1125 490 1140 491 1150 490 C1172 488 1186 482 1192.4 475.2 L1192 438" fill="#fff" stroke="#111" stroke-width="1.6" stroke-linejoin="round" />
<path d="M1092 445 C1102 425 1130 417 1150 417.5 C1168 418 1185 423 1192 428.6 L1192 440 C1185 435 1170 430 1150 429 L1120 432 C1100 440 1098 450 1103 462 L1113 471 L1110 474 C1092 468 1086 455 1092 445 Z" fill="#fff" stroke="#111" stroke-width="1.0" stroke-linejoin="round" />
<ellipse cx="1147" cy="458" rx="44.5" ry="29" fill="#fff" stroke="#111" stroke-width="2.0" transform="rotate(-4 1147 458)"/>
<line x1="1148.7" y1="453.2" x2="1109.8" y2="444.2" stroke="#111" stroke-width="1.0" />
<line x1="1148.7" y1="453.2" x2="1122.3" y2="435.5" stroke="#111" stroke-width="1.0" />
<line x1="1148.7" y1="453.2" x2="1139.5" y2="430.9" stroke="#111" stroke-width="1.0" />
<line x1="1148.7" y1="453.2" x2="1154.5" y2="430.9" stroke="#111" stroke-width="1.0" />
<line x1="1148.7" y1="453.2" x2="1171.7" y2="435.5" stroke="#111" stroke-width="1.0" />
<line x1="1148.7" y1="453.2" x2="1184.2" y2="444.2" stroke="#111" stroke-width="1.0" />
<line x1="1148.7" y1="453.2" x2="1189.8" y2="460.4" stroke="#111" stroke-width="1.0" />
<line x1="1148.7" y1="453.2" x2="1187.4" y2="467.4" stroke="#111" stroke-width="1.0" />
<line x1="1148.7" y1="453.2" x2="1182.2" y2="473.8" stroke="#111" stroke-width="1.0" />
<line x1="1148.7" y1="453.2" x2="1161.7" y2="483.8" stroke="#111" stroke-width="1.0" />
<line x1="1148.7" y1="453.2" x2="1143.3" y2="485.4" stroke="#111" stroke-width="1.0" />
<line x1="1148.7" y1="453.2" x2="1125.5" y2="481.8" stroke="#111" stroke-width="1.0" />
<line x1="1148.7" y1="453.2" x2="1114.1" y2="475.7" stroke="#111" stroke-width="1.0" />
<line x1="1148.7" y1="453.2" x2="1105.5" y2="465.1" stroke="#111" stroke-width="1.0" />
<path d="M1148.5 448.0 L1102.8 450.0 L1103.2 460.4 L1148.9 458.4 Z" fill="#fff" stroke="#111" stroke-width="1.3"/>
<line x1="1148.8" y1="456.1" x2="1103.1" y2="458.1" stroke="#333" stroke-width="0.6" />
<line x1="1148.7" y1="454.2" x2="1103.0" y2="456.2" stroke="#333" stroke-width="0.6" />
<line x1="1148.7" y1="452.2" x2="1103.0" y2="454.2" stroke="#333" stroke-width="0.6" />
<line x1="1148.6" y1="450.3" x2="1102.9" y2="452.3" stroke="#333" stroke-width="0.6" />
<path d="M1150.7 456.7 L1179.3 440.6 L1175.3 433.6 L1146.7 449.7 Z" fill="#fff" stroke="#111" stroke-width="1.3"/>
<line x1="1147.6" y1="451.3" x2="1176.2" y2="435.2" stroke="#333" stroke-width="0.6" />
<line x1="1148.3" y1="452.5" x2="1176.9" y2="436.4" stroke="#333" stroke-width="0.6" />
<line x1="1149.1" y1="453.9" x2="1177.7" y2="437.8" stroke="#333" stroke-width="0.6" />
<line x1="1149.8" y1="455.1" x2="1178.4" y2="439.0" stroke="#333" stroke-width="0.6" />
<path d="M1145.6 455.8 L1167.2 481.9 L1173.4 476.7 L1151.8 450.6 Z" fill="#fff" stroke="#111" stroke-width="1.3"/>
<line x1="1150.4" y1="451.8" x2="1172.0" y2="477.9" stroke="#333" stroke-width="0.6" />
<line x1="1149.3" y1="452.7" x2="1170.9" y2="478.8" stroke="#333" stroke-width="0.6" />
<line x1="1148.1" y1="453.7" x2="1169.7" y2="479.8" stroke="#333" stroke-width="0.6" />
<line x1="1147.0" y1="454.6" x2="1168.6" y2="480.7" stroke="#333" stroke-width="0.6" />
<ellipse cx="1148.7" cy="453.2" rx="3.6" ry="2.4" fill="#fff" stroke="#111" stroke-width="1.3" transform="rotate(0 1148.7 453.2)"/>
<path d="M1110 474 C1092 468 1086 455 1092 445 C1102 425 1130 417 1150 417.5 C1168 418 1185 423 1192 428.6" fill="none" stroke="#111" stroke-width="2.0" stroke-linejoin="round" />
<path d="M1113 471 C1099 464 1095 455 1100 446 C1110 430 1132 422 1150 422 C1166 422.5 1180 427 1190 432" fill="none" stroke="#111" stroke-width="1.3" stroke-linejoin="round" />
<path d="M1089.5 456 C1088 466 1094 476 1110 484" fill="none" stroke="#111" stroke-width="1.6" stroke-linejoin="round" />
<line x1="1110.0" y1="474.0" x2="1110.0" y2="484.0" stroke="#111" stroke-width="1.5" />
<line x1="1113.0" y1="471.0" x2="1113.0" y2="482.0" stroke="#111" stroke-width="1.2" />
<line x1="1192.0" y1="428.6" x2="1192.0" y2="439.0" stroke="#111" stroke-width="1.6" />
<line x1="1190.0" y1="432.0" x2="1190.0" y2="442.0" stroke="#111" stroke-width="1.1" />
<path d="M1108 486 L1108 476 L1113 478 L1113 489" fill="none" stroke="#111" stroke-width="1.3" stroke-linejoin="round" />
<path d="M1192 426 L1192 442" fill="none" stroke="#111" stroke-width="1.4" stroke-linejoin="round" />
<path d="M1185 475 Q1195 465 1200 450 L1211 471" fill="none" stroke="#111" stroke-width="1.2" stroke-linejoin="round" />
<path d="M1196 447 Q1204 441 1211 445 Q1219 451 1218 462 Q1216 468 1208 470 L1199 470" fill="#fff" stroke="#111" stroke-width="1.8" stroke-linejoin="round" />
<path d="M1198 449 Q1206 455 1203 468" fill="none" stroke="#111" stroke-width="1.6" stroke-linejoin="round" />
<path d="M1192 445 L1203 446 M1190 470 L1206 466" fill="none" stroke="#111" stroke-width="1.2" stroke-linejoin="round" />
<rect x="1196" y="448" width="3" height="8" fill="#222"/>
<line x1="1180.0" y1="478.0" x2="1211.0" y2="470.5" stroke="#111" stroke-width="1.3" />
<text x="1147.5" y="383.7" font-size="11.6" fill="#e8262b" textLength="65.5" lengthAdjust="spacingAndGlyphs">TAPPO ø620</text>
<line x1="1144.8" y1="379" x2="1146.5" y2="440" stroke="#e8262b" stroke-width="1.1"/>
<text x="960.6" y="437.6" font-size="11.6" fill="#e8262b" textLength="65.8" lengthAdjust="spacingAndGlyphs">TAPPO ø200</text>
<line x1="1029" y1="432.8" x2="1070.9" y2="491.8" stroke="#e8262b" stroke-width="1.1"/>
<path d="M1075.5 498.3 L1069.4 492.8 L1072.3 490.7 Z" fill="#e8262b"/>
<text x="1293.5" y="451.8" font-size="11.6" fill="#e8262b" textLength="66.5" lengthAdjust="spacingAndGlyphs">USCITA ø125</text>
<line x1="1290" y1="447.6" x2="1221.5" y2="447.6" stroke="#e8262b" stroke-width="1.1"/>
<path d="M1213.5 447.6 L1221.5 445.8 L1221.5 449.4 Z" fill="#e8262b"/>
<text x="1237" y="521.5" font-size="11.6" fill="#e8262b" textLength="44.2" lengthAdjust="spacingAndGlyphs">CARRIER</text>
<line x1="1234" y1="517.6" x2="1165.0" y2="517.4" stroke="#e8262b" stroke-width="1.1"/>
<path d="M1157 517.4 L1165.0 515.6 L1165.0 519.2 Z" fill="#e8262b"/>
<text x="920" y="538.3" font-size="11.6" fill="#e8262b" textLength="81.9" lengthAdjust="spacingAndGlyphs">INGRESSO ø125</text>
<line x1="1005.2" y1="534.4" x2="1044.9" y2="534.4" stroke="#e8262b" stroke-width="1.1"/>
<path d="M1052.9 534.4 L1044.9 536.2 L1044.9 532.6 Z" fill="#e8262b"/>
</svg></body></html>
